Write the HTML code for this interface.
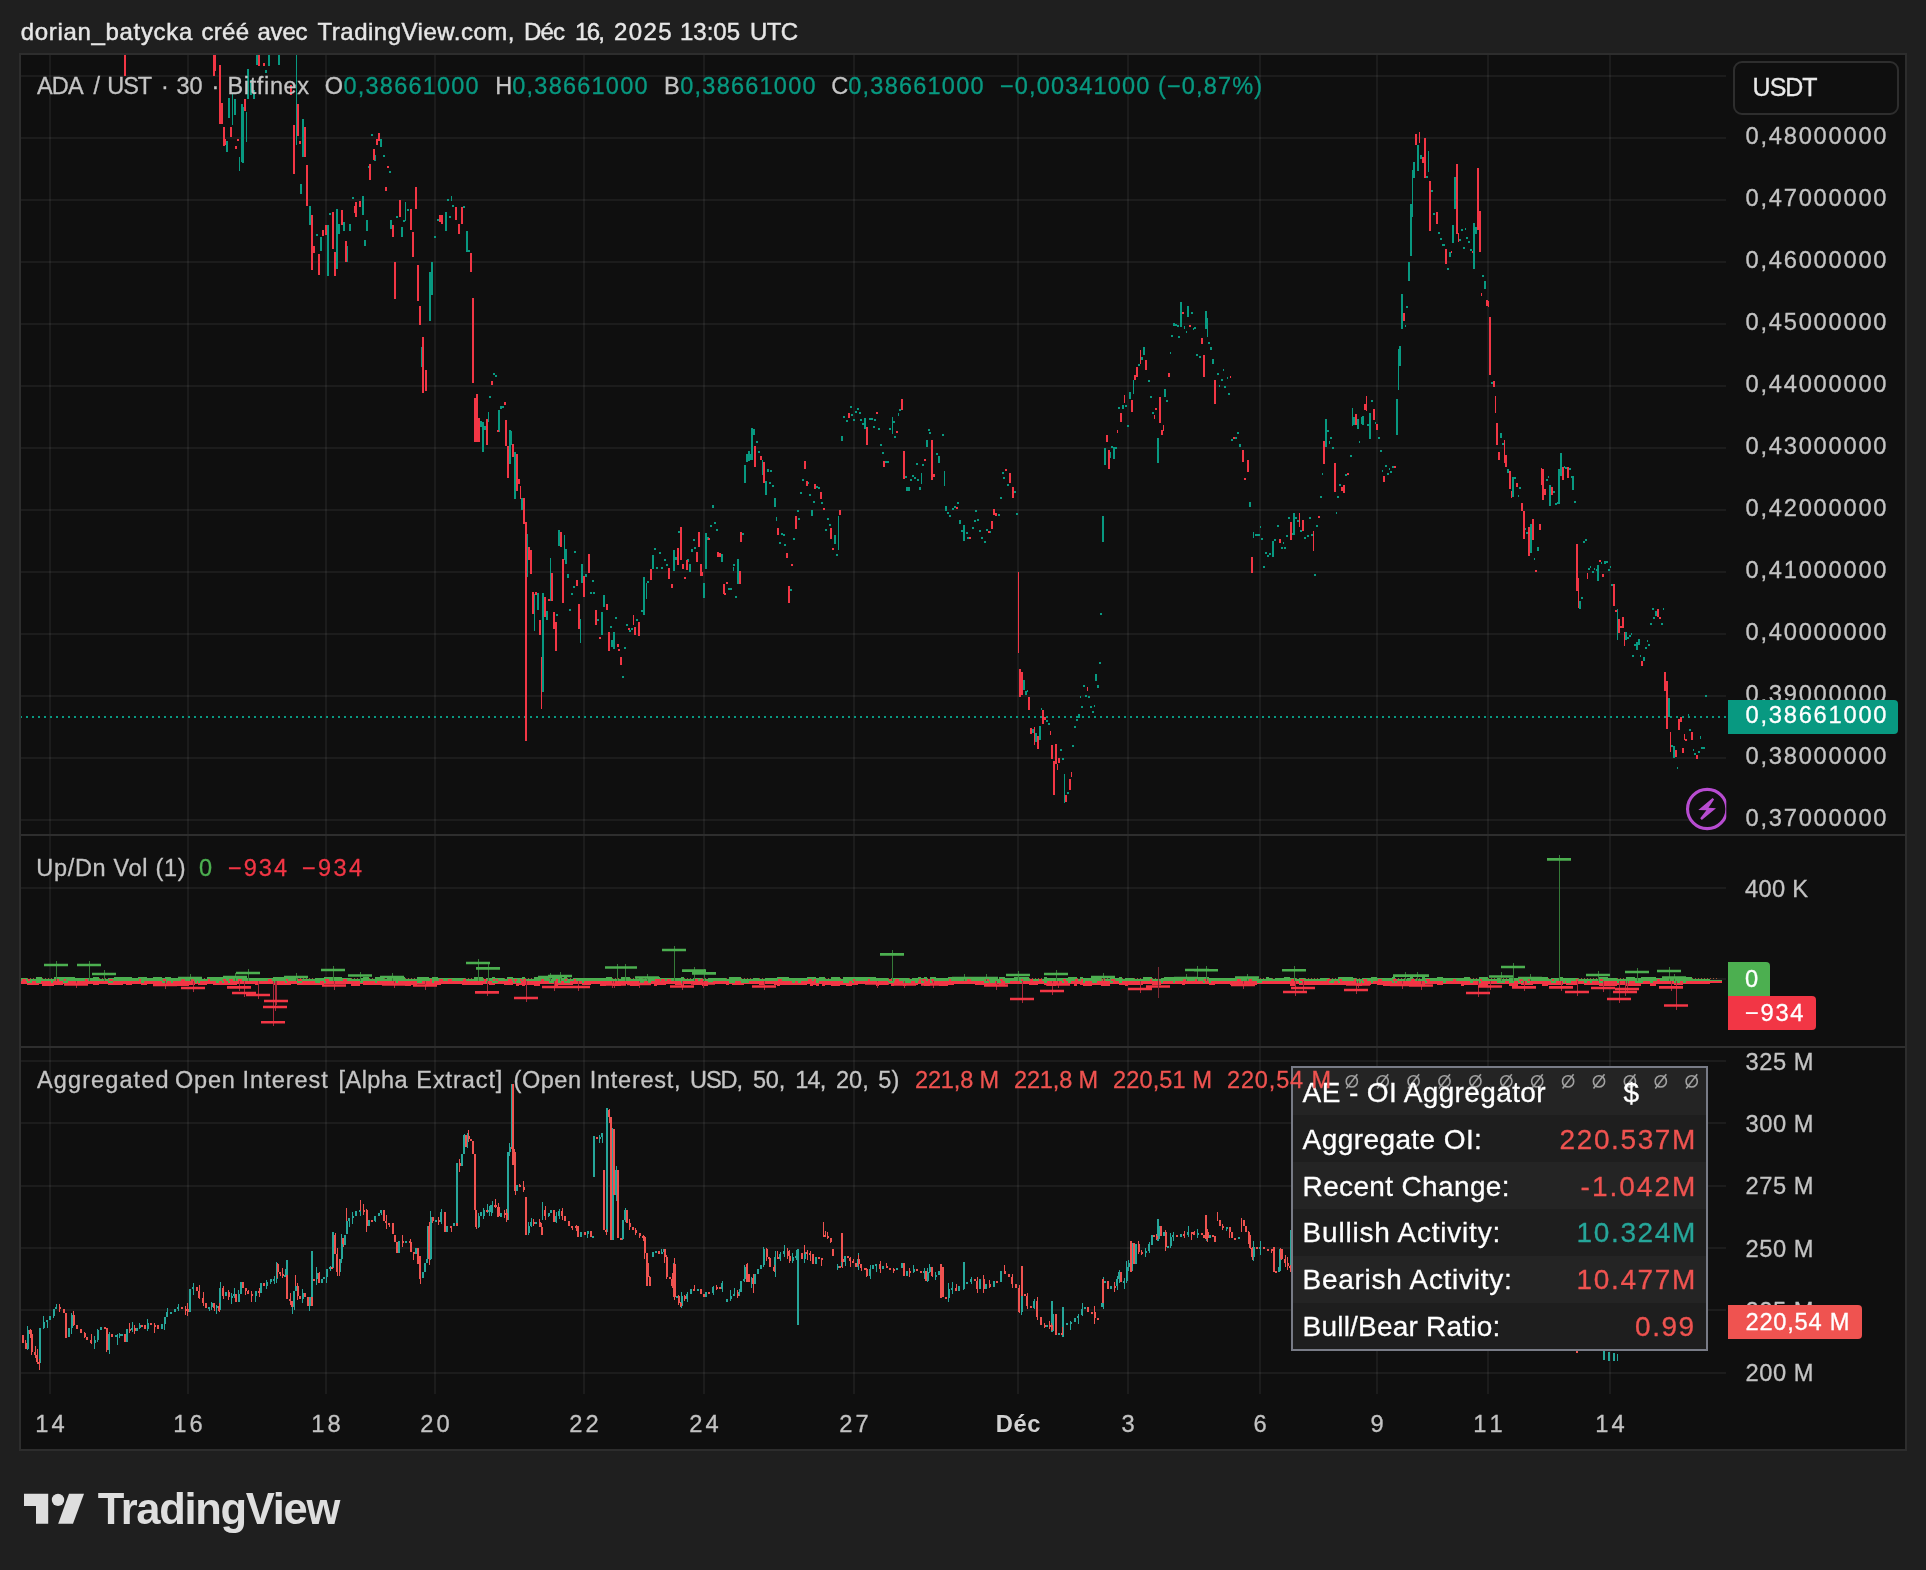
<!DOCTYPE html>
<html><head><meta charset="utf-8"><title>ADA / UST chart</title>
<style>html,body{margin:0;padding:0;background:#1f1f1f;}body{width:1926px;height:1570px;overflow:hidden;font-family:'Liberation Sans', sans-serif;}svg{display:block}text{white-space:pre}</style>
</head><body>
<svg width="1926" height="1570" viewBox="0 0 1926 1570" font-family="'Liberation Sans', sans-serif" shape-rendering="crispEdges">
<rect width="1926" height="1570" fill="#1f1f1f"/>
<g style="will-change:transform">
<rect x="20" y="54" width="1886" height="1396" fill="#0f0f0f" stroke="#2d2d2d" stroke-width="2"/>
<path d="M50 55V1394 M188 55V1394 M326 55V1394 M435 55V1394 M584 55V1394 M704 55V1394 M854 55V1394 M1018 55V1394 M1128 55V1394 M1260 55V1394 M1377 55V1394 M1488 55V1394 M1610 55V1394" stroke="#fff" stroke-opacity="0.055" stroke-width="2" fill="none"/>
<path d="M21 76.0H1726 M21 138.0H1726 M21 200.0H1726 M21 262.0H1726 M21 324.0H1726 M21 386.0H1726 M21 448.0H1726 M21 510.0H1726 M21 572.0H1726 M21 634.0H1726 M21 696.0H1726 M21 758.0H1726 M21 820.0H1726 M21 888H1726 M21 979H1726 M21 1061.0H1726 M21 1123.0H1726 M21 1186.0H1726 M21 1248.0H1726 M21 1310.0H1726 M21 1373.0H1726" stroke="#fff" stroke-opacity="0.055" stroke-width="2" fill="none"/>
<path d="M21 717H1727" stroke="#089981" stroke-width="2" stroke-dasharray="2 4" stroke-dashoffset="1" fill="none"/>
<clipPath id="cm"><rect x="21" y="55" width="1705" height="779"/></clipPath>
<g clip-path="url(#cm)"><path d="M225.8 141.2h2v11.2h-2zM228.3 97.5h2v20.0h-2zM232.3 92.5h1v32.5h-1zM233.8 98.7h2v16.2h-2zM239.3 157.4h1v13.7h-1zM241.3 103.7h2v58.7h-2zM245.8 112.4h1v30.0h-1zM247.0 68.7h2v30.0h-2zM250.0 80.0h2v15.0h-2zM253.0 90.0h2v8.7h-2zM256.3 55.0h2v10.0h-2zM265.0 70.0h2v2.5h-2zM268.0 55.0h2v11.2h-2zM277.5 55.0h2v10.0h-2zM295.5 55.0h1v89.9h-1zM302.0 118.7h2v38.7h-2zM300.0 183.6h2v10.0h-2zM308.7 206.1h2v18.7h-2zM315.7 234.3h2v2.0h-2zM319.9 237.3h2v13.7h-2zM326.9 224.8h2v51.2h-2zM328.7 212.6h2v2.0h-2zM335.7 208.6h2v59.9h-2zM338.2 224.8h2v8.7h-2zM342.9 222.3h2v8.7h-2zM346.2 246.1h2v16.2h-2zM349.2 224.8h2v5.7h-2zM351.7 196.9h2v2.0h-2zM361.9 196.1h2v18.7h-2zM365.7 219.8h2v11.2h-2zM363.9 239.8h2v6.2h-2zM367.7 166.4h2v2.0h-2zM371.1 133.9h2v2.0h-2zM374.4 154.9h2v6.2h-2zM380.4 138.7h2v8.7h-2zM382.9 154.7h2v2.0h-2zM388.9 170.6h2v2.0h-2zM390.4 219.8h2v8.7h-2zM396.1 216.3h2v2.0h-2zM400.9 227.3h2v10.0h-2zM402.9 220.1h2v2.0h-2zM405.4 202.4h1v18.7h-1zM407.4 209.3h2v2.0h-2zM421.1 347.2h1v20.0h-1zM428.6 272.3h2v48.7h-2zM430.6 262.3h2v32.5h-2zM433.6 236.3h2v2.0h-2zM436.6 218.8h2v2.0h-2zM444.8 212.3h2v18.7h-2zM449.1 216.3h2v2.0h-2zM447.3 198.9h2v2.0h-2zM450.8 196.1h1v5.0h-1zM452.3 205.1h2v2.0h-2zM463.1 205.6h2v2.0h-2zM465.6 230.6h2v21.7h-2zM467.8 250.1h2v2.0h-2zM492.7 373.0h2v2.0h-2zM495.0 375.0h2v2.0h-2zM489.0 396.0h2v2.0h-2zM479.5 421.2h2v6.2h-2zM482.0 422.4h2v29.5h-2zM484.0 426.2h2v3.7h-2zM488.0 411.9h1v10.0h-1zM498.0 410.0h2v22.0h-2zM500.2 406.2h2v2.5h-2zM502.0 405.7h2v2.0h-2zM509.2 429.9h2v34.5h-2zM511.2 431.2h1v13.7h-1zM514.2 452.4h2v46.5h-2zM521.2 498.1h2v11.7h-2zM527.2 534.1h1v43.2h-1zM533.9 593.5h1v37.5h-1zM536.9 593.0h2v16.7h-2zM541.9 593.0h2v99.2h-2zM545.9 611.0h2v8.7h-2zM549.9 558.1h1v43.0h-1zM556.4 614.2h2v2.0h-2zM558.2 530.3h2v15.7h-2zM563.9 534.8h1v25.0h-1zM564.9 549.1h2v15.0h-2zM566.9 574.3h2v3.5h-2zM568.9 609.0h2v2.0h-2zM570.9 593.0h2v2.0h-2zM572.6 586.0h2v2.0h-2zM573.9 551.1h2v2.0h-2zM580.1 619.2h1v23.7h-1zM581.1 564.0h2v19.0h-2zM585.1 573.5h2v3.7h-2zM590.1 592.3h2v2.0h-2zM593.1 592.3h2v2.0h-2zM591.9 580.0h2v2.0h-2zM597.1 618.5h2v2.0h-2zM601.1 612.2h2v22.5h-2zM603.4 594.8h2v12.5h-2zM609.6 626.0h2v2.0h-2zM611.3 639.7h2v7.5h-2zM613.1 631.5h2v17.0h-2zM615.1 617.2h2v2.0h-2zM622.1 676.2h2v2.0h-2zM623.8 646.5h2v2.5h-2zM625.8 624.2h2v2.0h-2zM629.3 629.7h2v2.0h-2zM631.3 627.7h2v2.0h-2zM635.8 618.5h2v2.0h-2zM641.3 610.2h2v2.0h-2zM643.3 577.3h2v37.5h-2zM645.8 583.0h1v15.5h-1zM647.3 581.0h2v2.0h-2zM651.8 555.3h2v13.2h-2zM653.8 548.3h2v2.0h-2zM656.3 566.5h2v2.0h-2zM658.8 552.3h2v2.0h-2zM660.8 567.3h2v2.0h-2zM663.8 558.6h2v2.0h-2zM665.8 564.3h2v2.0h-2zM673.3 550.3h2v20.7h-2zM675.0 557.3h2v2.5h-2zM678.3 531.1h2v2.0h-2zM687.0 558.6h2v3.7h-2zM689.0 564.3h2v7.5h-2zM691.3 548.6h2v3.2h-2zM693.0 539.1h2v2.0h-2zM694.0 547.3h2v2.0h-2zM703.0 583.0h2v14.7h-2zM705.3 532.8h2v36.2h-2zM707.0 536.6h2v3.2h-2zM710.0 525.1h2v2.0h-2zM713.7 522.3h2v2.0h-2zM715.5 529.3h2v2.0h-2zM712.0 504.9h2v3.0h-2zM720.7 553.6h2v8.2h-2zM728.2 588.0h2v2.0h-2zM730.0 588.0h2v2.0h-2zM735.0 596.0h2v2.0h-2zM732.5 567.3h1v3.7h-1zM733.2 564.0h2v2.0h-2zM737.0 559.1h2v24.5h-2zM741.7 532.8h2v2.0h-2zM744.0 465.4h2v17.5h-2zM745.7 453.7h2v8.0h-2zM747.7 451.2h2v10.0h-2zM749.5 453.7h2v6.2h-2zM751.2 427.9h2v32.0h-2zM752.5 428.7h2v6.2h-2zM756.0 441.2h2v2.0h-2zM758.0 451.2h2v2.0h-2zM761.9 459.9h1v15.0h-1zM764.9 481.1h2v13.7h-2zM766.9 469.4h2v3.0h-2zM769.9 469.9h2v2.0h-2zM768.7 482.4h2v2.0h-2zM771.9 485.4h2v2.0h-2zM773.9 498.1h2v8.7h-2zM775.9 517.3h1v3.7h-1zM778.9 542.3h2v2.0h-2zM780.7 533.1h2v2.0h-2zM782.9 534.3h2v2.0h-2zM784.4 543.6h2v2.0h-2zM789.9 588.5h2v2.0h-2zM793.2 538.1h2v2.0h-2zM796.9 510.1h2v2.0h-2zM798.4 518.1h2v2.0h-2zM799.9 492.4h2v2.0h-2zM802.2 479.4h2v2.0h-2zM807.4 482.4h2v2.0h-2zM809.1 493.6h2v2.0h-2zM811.1 509.9h2v6.2h-2zM812.9 500.6h2v2.0h-2zM816.1 485.6h2v2.0h-2zM817.9 486.6h2v2.0h-2zM821.4 502.4h2v2.0h-2zM825.1 528.6h2v2.0h-2zM826.9 518.1h2v2.0h-2zM828.6 523.6h2v2.0h-2zM833.9 534.8h2v9.2h-2zM836.1 554.3h2v2.0h-2zM838.1 516.1h1v34.2h-1zM840.9 436.2h2v4.5h-2zM842.9 416.4h2v2.0h-2zM845.6 419.9h2v2.0h-2zM849.9 406.2h2v2.0h-2zM851.4 414.4h2v2.0h-2zM853.1 419.2h2v2.0h-2zM855.1 411.2h2v2.0h-2zM856.9 408.2h2v2.0h-2zM858.6 412.4h2v2.0h-2zM860.3 418.7h2v2.0h-2zM862.1 422.9h2v2.0h-2zM864.1 417.9h2v10.7h-2zM868.6 418.4h2v2.0h-2zM870.6 418.4h2v2.0h-2zM872.6 426.2h2v2.0h-2zM874.3 419.4h2v2.0h-2zM877.8 427.9h2v2.0h-2zM879.8 444.2h2v2.0h-2zM881.6 452.4h2v2.0h-2zM884.8 460.6h2v2.0h-2zM886.6 461.1h2v2.0h-2zM889.1 427.9h2v2.0h-2zM891.6 416.9h1v16.7h-1zM892.6 420.7h2v2.0h-2zM894.3 436.2h2v2.0h-2zM898.3 413.2h1v3.0h-1zM899.3 409.2h2v2.0h-2zM904.8 476.1h2v2.0h-2zM906.1 487.4h2v3.5h-2zM907.8 487.4h2v3.5h-2zM910.0 479.1h2v2.0h-2zM912.3 475.4h2v2.0h-2zM914.0 477.4h2v2.0h-2zM915.5 462.9h2v2.0h-2zM917.3 479.4h2v2.0h-2zM919.0 486.6h2v3.2h-2zM921.0 473.1h1v10.5h-1zM922.3 464.4h2v2.0h-2zM926.0 439.9h2v7.0h-2zM927.5 429.4h2v2.0h-2zM929.3 432.4h2v2.0h-2zM936.0 452.9h2v2.0h-2zM938.0 456.2h2v6.7h-2zM942.0 434.1h2v2.0h-2zM944.0 471.1h1v15.0h-1zM945.0 506.0h2v5.0h-2zM947.0 511.8h2v2.0h-2zM949.0 514.8h2v2.0h-2zM951.5 507.8h2v2.0h-2zM953.5 506.0h2v2.0h-2zM957.2 502.3h2v2.0h-2zM959.0 520.3h2v3.7h-2zM961.0 530.2h2v2.0h-2zM963.0 525.3h2v15.7h-2zM965.7 532.2h2v2.0h-2zM967.2 537.2h2v2.0h-2zM971.9 527.3h2v2.0h-2zM973.9 520.3h2v2.0h-2zM975.2 510.3h2v2.0h-2zM976.9 519.3h2v2.0h-2zM978.9 530.2h2v2.0h-2zM980.9 537.2h2v2.0h-2zM983.9 541.2h2v2.0h-2zM985.9 529.3h2v2.0h-2zM989.2 531.2h2v2.0h-2zM997.9 513.5h2v2.0h-2zM999.9 497.3h2v2.0h-2zM1001.9 472.3h2v2.0h-2zM1003.4 477.3h2v2.0h-2zM1006.9 483.5h2v2.0h-2zM1013.9 491.0h2v2.0h-2zM1015.9 513.0h2v2.0h-2zM1098.8 662.1h2v2.0h-2zM1100.3 612.9h2v2.0h-2zM1102.1 516.0h2v25.7h-2zM1103.8 448.1h2v16.7h-2zM1110.1 452.3h1v5.5h-1zM1111.3 446.1h2v2.0h-2zM1113.1 446.8h2v11.7h-2zM1114.8 446.8h2v2.0h-2zM1118.3 406.9h2v2.0h-2zM1121.8 404.9h2v3.7h-2zM1125.0 404.9h2v2.5h-2zM1127.0 424.9h2v2.0h-2zM1129.0 392.4h2v6.2h-2zM1133.0 379.9h1v13.7h-1zM1137.8 364.2h2v2.0h-2zM1141.0 357.4h2v2.5h-2zM1143.0 346.9h2v8.0h-2zM1147.5 380.1h2v2.0h-2zM1150.0 396.1h2v2.0h-2zM1152.0 412.4h2v2.0h-2zM1157.0 438.1h2v25.0h-2zM1164.3 388.9h2v8.0h-2zM1166.0 400.4h2v2.0h-2zM1170.0 351.9h1v2.0h-1zM1171.2 335.4h2v2.0h-2zM1173.0 322.5h2v3.7h-2zM1175.0 324.0h2v2.0h-2zM1176.5 325.0h2v2.0h-2zM1178.2 336.2h2v2.0h-2zM1180.0 302.0h2v25.0h-2zM1184.2 325.7h1v3.7h-1zM1186.0 331.2h1v2.0h-1zM1187.0 305.7h2v11.2h-2zM1191.0 312.0h2v2.0h-2zM1193.0 328.2h1v2.0h-1zM1194.2 327.0h2v2.0h-2zM1196.2 354.2h2v2.0h-2zM1198.5 356.2h2v2.0h-2zM1205.0 311.0h2v17.7h-2zM1207.0 317.5h1v19.5h-1zM1208.0 342.2h2v2.0h-2zM1210.0 346.9h2v3.0h-2zM1212.0 359.4h2v4.5h-2zM1216.7 373.2h2v2.0h-2zM1219.2 384.9h1v2.0h-1zM1220.7 379.2h2v2.0h-2zM1222.9 368.9h1v2.0h-1zM1224.2 386.1h2v2.0h-2zM1226.7 377.4h1v2.0h-1zM1227.9 393.1h2v2.0h-2zM1231.2 438.6h2v2.0h-2zM1234.9 437.3h2v2.0h-2zM1236.9 432.1h2v2.0h-2zM1239.4 444.3h2v2.5h-2zM1248.9 501.8h2v5.0h-2zM1253.2 532.2h1v6.2h-1zM1254.9 534.2h1v2.0h-1zM1256.2 533.5h2v2.0h-2zM1257.9 534.2h2v2.0h-2zM1259.9 525.5h1v2.0h-1zM1260.9 538.0h2v2.0h-2zM1262.9 566.2h2v2.0h-2zM1264.9 552.2h2v2.0h-2zM1266.9 554.7h2v2.0h-2zM1269.4 553.0h2v2.0h-2zM1271.9 541.0h2v16.2h-2zM1273.9 538.5h2v2.0h-2zM1276.9 525.3h2v2.0h-2zM1281.1 547.2h2v2.0h-2zM1283.6 547.2h2v2.0h-2zM1282.9 542.2h1v2.0h-1zM1286.1 535.2h2v2.0h-2zM1288.1 517.3h2v2.0h-2zM1291.4 532.7h2v2.0h-2zM1292.9 513.0h2v22.2h-2zM1294.9 516.8h2v2.0h-2zM1296.6 519.8h2v2.0h-2zM1300.1 529.8h2v2.0h-2zM1304.4 537.2h2v2.0h-2zM1306.9 535.2h2v2.0h-2zM1308.9 517.3h2v2.0h-2zM1310.6 533.5h2v2.0h-2zM1313.9 574.2h2v2.0h-2zM1316.1 525.3h2v2.0h-2zM1319.8 496.0h2v2.0h-2zM1321.8 473.1h1v2.0h-1zM1325.1 419.1h2v27.7h-2zM1326.8 430.1h2v2.0h-2zM1328.8 440.6h1v3.0h-1zM1329.8 437.3h2v2.0h-2zM1331.8 447.1h2v2.0h-2zM1336.8 496.0h2v2.0h-2zM1335.8 512.3h1v2.0h-1zM1338.8 484.3h2v2.0h-2zM1345.3 474.1h2v2.0h-2zM1349.8 455.3h2v2.0h-2zM1352.1 407.9h1v18.2h-1zM1353.3 416.9h2v8.0h-2zM1357.1 418.6h2v10.5h-2zM1359.1 441.1h1v2.0h-1zM1360.6 417.4h2v6.2h-2zM1362.3 416.1h2v8.7h-2zM1367.3 423.6h2v2.0h-2zM1369.0 413.1h2v26.0h-2zM1371.0 400.1h2v2.0h-2zM1375.3 422.4h1v2.0h-1zM1378.0 437.1h2v2.0h-2zM1380.0 450.1h2v2.0h-2zM1382.0 470.3h1v2.0h-1zM1384.8 465.3h2v2.0h-2zM1386.8 473.1h2v2.0h-2zM1389.0 467.8h1v2.0h-1zM1390.3 471.1h2v2.0h-2zM1392.3 466.1h2v2.0h-2zM1396.0 399.1h2v35.7h-2zM1022.8 680.0h2v9.6h-2zM1024.6 691.4h2v3.5h-2zM1026.5 690.3h1v2.0h-1zM1031.6 729.1h2v3.5h-2zM1035.1 732.6h2v9.6h-2zM1039.1 726.1h2v13.8h-2zM1040.8 708.4h1v2.0h-1zM1045.9 720.3h2v2.0h-2zM1047.9 723.3h2v2.0h-2zM1059.8 749.2h2v2.0h-2zM1061.9 758.3h2v2.0h-2zM1063.9 774.1h1v28.6h-1zM1066.9 792.3h2v2.0h-2zM1071.9 745.2h2v2.0h-2zM1074.0 726.4h2v2.0h-2zM1075.9 719.1h2v2.0h-2zM1077.8 714.2h2v3.5h-2zM1079.9 696.3h1v2.0h-1zM1081.0 706.3h2v2.0h-2zM1082.9 685.3h2v2.0h-2zM1085.0 695.2h2v2.0h-2zM1088.0 696.3h2v2.0h-2zM1089.9 706.3h2v2.0h-2zM1091.8 711.4h2v2.0h-2zM1093.9 705.1h1v2.0h-1zM1095.0 674.1h2v6.8h-2zM1096.9 685.3h2v2.6h-2zM1099.0 662.3h2v2.0h-2zM1100.9 613.3h1v2.0h-1zM1397.9 348.8h1v41.2h-1zM1398.9 346.0h2v19.7h-2zM1400.9 294.1h2v34.7h-2zM1405.0 325.4h1v2.0h-1zM1406.0 306.1h2v2.0h-2zM1407.8 262.1h2v18.7h-2zM1410.1 204.0h2v51.7h-2zM1411.9 169.9h1v46.8h-1zM1412.9 162.1h2v15.7h-2zM1417.0 145.2h2v25.7h-2zM1420.0 155.0h2v4.1h-2zM1425.8 176.1h2v2.0h-2zM1428.0 150.8h1v21.0h-1zM1431.1 190.2h2v2.0h-2zM1433.3 213.0h2v2.0h-2zM1438.0 232.1h2v2.0h-2zM1439.9 238.3h2v2.0h-2zM1441.7 244.3h2v2.0h-2zM1443.2 244.3h2v2.0h-2zM1446.8 268.3h2v2.0h-2zM1448.9 252.3h2v4.3h-2zM1451.9 225.2h2v17.4h-2zM1453.9 177.1h2v31.7h-2zM1459.2 239.2h2v2.0h-2zM1461.0 229.1h2v2.0h-2zM1462.9 247.3h2v2.0h-2zM1464.9 228.0h1v2.0h-1zM1465.9 237.4h2v2.0h-2zM1468.0 241.3h2v2.0h-2zM1469.8 249.4h2v2.0h-2zM1473.0 222.9h2v45.9h-2zM1474.9 227.1h2v6.6h-2zM1481.8 275.2h2v2.0h-2zM1483.9 281.0h2v7.9h-2zM1491.0 382.1h2v2.0h-2zM1491.0 382.0h2v2.0h-2zM1499.8 433.1h2v5.1h-2zM1501.9 442.9h2v2.0h-2zM1507.0 469.0h2v4.1h-2zM1511.9 477.1h2v19.9h-2zM1513.7 477.1h2v2.0h-2zM1517.9 494.8h1v2.0h-1zM1519.0 487.1h2v2.0h-2zM1524.9 528.0h1v2.0h-1zM1525.9 531.9h2v2.0h-2zM1529.9 523.9h2v29.1h-2zM1533.9 558.1h1v2.0h-1zM1537.1 546.9h2v3.9h-2zM1545.9 479.0h2v2.0h-2zM1547.9 475.9h1v2.0h-1zM1549.0 485.0h2v20.8h-2zM1552.9 491.1h2v2.0h-2zM1554.9 503.1h2v2.0h-2zM1556.9 502.1h1v2.0h-1zM1558.1 469.0h2v34.9h-2zM1560.0 453.0h2v23.0h-2zM1564.2 466.1h1v2.0h-1zM1565.1 466.9h2v2.0h-2zM1569.0 467.9h2v2.0h-2zM1571.1 475.9h1v2.0h-1zM1572.1 475.9h2v14.1h-2zM1574.0 500.9h2v2.0h-2zM1579.1 601.0h2v7.0h-2zM1580.8 596.9h2v2.0h-2zM1583.0 541.1h2v2.0h-2zM1584.9 539.2h2v2.0h-2zM1587.8 568.0h2v2.0h-2zM1590.3 566.1h1v2.0h-1zM1591.9 571.0h2v2.0h-2zM1594.0 568.0h1v2.0h-1zM1595.7 569.0h1v2.0h-1zM1597.0 564.9h2v16.0h-2zM1600.9 562.0h1v2.0h-1zM1604.1 561.0h2v2.9h-2zM1605.8 561.0h2v2.0h-2zM1607.6 569.0h2v2.0h-2zM1609.7 566.1h1v2.0h-1zM1610.9 584.0h2v2.0h-2zM1579.0 601.2h2v7.6h-2zM1580.9 597.3h2v2.0h-2zM1617.1 609.1h1v30.6h-1zM1625.2 632.3h2v7.4h-2zM1627.2 636.5h2v2.0h-2zM1628.8 635.2h2v2.0h-2zM1630.8 633.3h1v2.0h-1zM1634.2 644.1h2v2.0h-2zM1635.9 641.8h2v7.8h-2zM1638.0 639.0h2v5.7h-2zM1631.9 655.2h2v2.0h-2zM1640.0 655.2h1v2.0h-1zM1642.8 657.1h2v4.2h-2zM1645.1 647.1h2v2.0h-2zM1647.0 639.7h1v2.0h-1zM1647.9 644.1h2v2.0h-2zM1650.0 623.1h2v2.0h-2zM1652.0 608.2h2v2.0h-2zM1653.4 617.0h2v2.0h-2zM1654.9 611.0h2v5.1h-2zM1661.0 623.1h2v2.0h-2zM1662.9 608.2h1v2.0h-1zM1668.0 698.0h2v19.4h-2zM1671.1 745.2h2v2.0h-2zM1673.0 746.4h2v11.5h-2zM1677.0 767.1h1v2.0h-1zM1687.5 714.2h1v3.2h-1zM1688.9 729.2h2v2.0h-2zM1692.9 749.2h1v2.0h-1zM1694.0 753.1h2v2.0h-2zM1697.9 751.1h2v2.0h-2zM1699.9 736.2h1v2.5h-1zM1701.0 747.3h2v2.0h-2zM1702.9 747.3h2v2.0h-2zM1705.1 695.1h2v2.0h-2zM241.9 106.5h2v56.2h-2zM337.7 224.4h2v9.4h-2zM349.4 224.4h2v6.2h-2zM429.5 272.0h2v21.9h-2z" fill="#089981"/><path d="M123.9 55.0h2v20.5h-2zM212.6 55.0h2v21.2h-2zM218.8 65.0h2v58.7h-2zM222.5 127.4h2v18.7h-2zM230.0 127.4h2v10.0h-2zM235.0 146.2h2v2.5h-2zM237.0 139.4h2v2.0h-2zM243.8 98.7h2v12.5h-2zM258.3 55.0h2v11.2h-2zM262.5 62.5h2v3.7h-2zM290.0 85.0h2v10.0h-2zM292.5 124.9h2v48.7h-2zM296.7 103.7h2v32.5h-2zM298.7 141.4h2v2.5h-2zM304.0 127.4h2v30.0h-2zM306.2 164.9h2v41.2h-2zM310.7 214.8h2v54.9h-2zM313.2 246.1h2v6.2h-2zM318.0 253.6h2v21.2h-2zM322.4 229.8h2v6.2h-2zM324.9 224.8h2v10.0h-2zM331.7 212.3h2v36.2h-2zM333.7 252.3h2v23.7h-2zM341.2 209.8h2v15.0h-2zM344.9 241.1h2v21.2h-2zM353.7 206.1h2v6.2h-2zM355.4 202.4h2v15.0h-2zM358.7 201.1h2v6.2h-2zM368.7 163.6h2v16.2h-2zM373.1 148.7h2v11.2h-2zM376.1 138.7h2v6.2h-2zM378.1 132.9h2v8.2h-2zM386.9 165.9h2v2.0h-2zM384.9 187.4h2v3.2h-2zM391.9 224.8h2v12.5h-2zM393.6 262.3h2v36.2h-2zM398.9 199.9h2v17.5h-2zM409.9 209.3h2v20.5h-2zM412.4 232.3h2v25.0h-2zM415.1 187.4h2v21.2h-2zM417.1 265.3h2v35.2h-2zM418.9 306.0h2v18.7h-2zM421.8 337.2h2v56.2h-2zM424.8 369.7h2v21.2h-2zM438.6 214.8h2v7.5h-2zM441.1 214.8h2v8.7h-2zM454.8 207.3h2v12.5h-2zM457.8 223.6h2v10.0h-2zM461.1 206.6h2v17.0h-2zM470.0 253.1h2v18.5h-2zM472.3 298.0h2v84.7h-2zM490.7 381.2h2v3.7h-2zM474.0 397.5h2v44.5h-2zM476.0 393.7h2v48.2h-2zM477.7 417.9h2v24.0h-2zM485.7 418.7h2v26.2h-2zM496.5 429.9h2v2.5h-2zM503.5 402.0h2v2.5h-2zM505.0 419.9h2v26.2h-2zM507.0 446.2h2v31.7h-2zM512.2 444.2h2v13.2h-2zM516.2 453.7h2v37.5h-2zM517.9 479.4h2v5.0h-2zM519.9 486.1h1v12.5h-1zM522.9 498.1h2v25.5h-2zM524.9 522.3h2v218.5h-2zM528.4 546.8h2v13.0h-2zM530.2 549.8h2v24.2h-2zM531.9 592.3h2v22.0h-2zM535.2 592.3h2v2.5h-2zM538.9 619.7h2v15.0h-2zM540.9 657.2h1v51.7h-1zM543.9 597.3h2v20.0h-2zM547.9 598.5h2v2.0h-2zM550.9 572.8h2v28.2h-2zM552.9 612.2h2v17.0h-2zM554.9 621.7h2v29.2h-2zM559.9 531.8h2v15.0h-2zM561.9 559.1h2v43.7h-2zM575.9 580.3h2v5.7h-2zM578.1 604.0h2v25.0h-2zM583.1 576.0h2v21.2h-2zM587.9 554.3h2v18.5h-2zM595.1 610.2h2v14.5h-2zM598.9 636.7h2v2.0h-2zM605.6 604.3h2v5.5h-2zM608.1 631.5h2v19.5h-2zM616.8 643.5h2v3.7h-2zM618.1 648.5h2v2.0h-2zM620.1 657.2h2v7.5h-2zM627.6 627.7h2v2.0h-2zM633.1 615.2h1v9.5h-1zM634.3 627.2h2v7.5h-2zM638.1 621.7h2v14.2h-2zM650.1 569.3h2v10.5h-2zM668.3 567.8h2v11.2h-2zM671.0 584.0h2v3.7h-2zM677.3 548.1h2v16.7h-2zM680.0 527.3h2v32.5h-2zM682.0 563.5h2v5.7h-2zM684.0 577.3h2v2.0h-2zM685.8 559.8h2v10.0h-2zM695.8 552.3h2v9.5h-2zM698.0 531.8h2v15.5h-2zM700.0 563.5h2v12.5h-2zM701.3 571.8h2v3.7h-2zM708.3 538.1h2v2.0h-2zM717.0 551.6h2v5.0h-2zM719.0 553.1h2v4.2h-2zM723.0 584.0h2v9.5h-2zM724.2 592.8h2v2.0h-2zM726.2 581.8h2v2.0h-2zM738.5 571.0h2v12.5h-2zM740.0 531.8h2v10.0h-2zM754.2 446.2h2v20.7h-2zM759.9 456.2h2v3.7h-2zM762.9 461.9h2v21.0h-2zM776.9 528.1h2v6.7h-2zM785.9 553.1h2v5.0h-2zM787.9 586.0h2v16.7h-2zM791.4 563.5h2v2.5h-2zM795.2 516.1h2v13.0h-2zM803.9 461.1h2v7.5h-2zM805.7 480.6h2v5.0h-2zM814.4 483.6h2v5.0h-2zM819.9 491.9h2v7.2h-2zM823.1 508.4h2v2.0h-2zM830.1 528.1h2v10.5h-2zM832.1 548.3h2v2.0h-2zM839.1 509.9h2v5.0h-2zM848.1 412.9h2v5.0h-2zM866.1 426.9h2v18.0h-2zM876.1 411.9h2v2.0h-2zM883.1 460.6h2v6.2h-2zM896.1 431.4h2v2.0h-2zM901.1 398.7h2v11.2h-2zM903.1 451.2h2v28.0h-2zM924.0 459.2h2v2.0h-2zM931.0 439.9h2v40.0h-2zM932.8 473.6h2v3.7h-2zM955.5 507.3h2v2.0h-2zM969.4 537.2h2v2.0h-2zM987.7 530.5h2v2.0h-2zM990.9 521.0h2v8.0h-2zM993.2 509.0h2v5.7h-2zM995.2 512.8h2v3.2h-2zM1005.2 469.3h2v2.0h-2zM1008.9 473.1h2v9.7h-2zM1011.9 486.8h2v11.2h-2zM1018.2 571.7h1v81.2h-1zM1018.9 668.9h2v3.2h-2zM1105.8 435.3h2v6.5h-2zM1107.8 450.3h2v18.7h-2zM1116.8 429.9h1v3.0h-1zM1120.0 413.1h2v9.2h-2zM1123.8 394.9h1v8.0h-1zM1131.0 399.9h2v12.0h-2zM1134.0 374.9h2v5.0h-2zM1135.8 366.9h2v10.0h-2zM1140.0 349.9h1v13.7h-1zM1145.0 359.9h2v10.0h-2zM1154.0 414.9h1v3.7h-1zM1155.0 408.1h2v2.0h-2zM1159.0 396.9h2v26.0h-2zM1161.0 429.9h2v5.0h-2zM1163.0 424.9h1v6.2h-1zM1168.0 372.9h2v4.0h-2zM1182.0 312.0h2v2.0h-2zM1189.0 325.0h2v2.0h-2zM1201.0 337.9h2v5.7h-2zM1203.0 354.9h2v22.0h-2zM1214.0 379.9h2v24.2h-2zM1229.9 376.2h1v2.0h-1zM1233.2 436.8h2v2.0h-2zM1241.9 449.8h2v12.0h-2zM1244.2 478.1h2v2.0h-2zM1246.9 459.8h2v12.5h-2zM1250.9 556.7h2v16.2h-2zM1278.9 538.5h2v4.5h-2zM1290.1 521.8h2v18.5h-2zM1298.9 512.8h1v14.5h-1zM1301.9 519.8h2v11.2h-2zM1312.9 531.0h1v20.0h-1zM1318.1 516.0h2v2.0h-2zM1323.1 441.1h2v23.0h-2zM1333.8 463.1h2v29.2h-2zM1340.8 487.3h2v3.7h-2zM1342.8 484.8h2v8.0h-2zM1347.3 473.1h2v2.0h-2zM1355.1 414.1h2v10.7h-2zM1364.1 403.6h2v6.2h-2zM1366.1 396.1h1v15.0h-1zM1373.0 408.6h2v11.7h-2zM1376.3 423.6h2v6.2h-2zM1383.0 476.1h2v6.2h-2zM1394.0 466.1h2v2.0h-2zM1018.9 669.0h2v27.7h-2zM1020.7 672.1h2v22.8h-2zM1028.1 697.0h2v12.8h-2zM1029.8 728.2h2v5.6h-2zM1034.0 727.3h1v17.5h-1zM1037.0 736.1h2v12.8h-2zM1041.9 710.1h2v13.7h-2zM1043.8 717.1h2v3.2h-2zM1049.9 731.3h1v3.5h-1zM1051.0 745.2h2v13.7h-2zM1052.9 760.6h2v34.2h-2zM1054.9 744.0h2v20.1h-2zM1056.9 764.1h1v5.6h-1zM1058.0 758.0h2v4.9h-2zM1064.8 795.1h2v6.7h-2zM1068.9 779.0h2v10.9h-2zM1071.0 772.3h1v4.6h-1zM1086.9 687.4h1v3.5h-1zM1402.8 313.2h2v7.5h-2zM1414.8 134.0h2v10.7h-2zM1419.0 132.1h1v10.7h-1zM1422.1 156.8h2v6.0h-2zM1424.0 138.1h2v39.7h-2zM1428.8 181.2h2v49.6h-2zM1435.8 212.1h2v11.8h-2zM1444.7 249.0h2v15.0h-2zM1450.9 251.4h1v2.0h-1zM1456.0 163.9h2v69.7h-2zM1458.0 232.7h1v9.4h-1zM1471.8 250.5h1v2.0h-1zM1477.0 168.1h2v61.8h-2zM1479.0 211.1h2v40.6h-2zM1480.8 293.2h1v2.6h-1zM1485.9 300.1h2v5.6h-2zM1487.8 301.0h1v5.6h-1zM1488.9 317.0h2v58.1h-2zM1493.1 381.0h2v5.8h-2zM1495.1 396.0h1v16.9h-1zM1495.9 423.0h2v21.8h-2zM1497.8 452.0h2v8.0h-2zM1503.8 439.9h1v23.0h-1zM1505.1 454.9h2v12.1h-2zM1509.0 470.9h2v18.2h-2zM1510.8 491.2h1v6.5h-1zM1515.8 482.9h2v4.2h-2zM1521.1 503.0h2v7.8h-2zM1523.0 510.8h2v28.1h-2zM1527.9 526.8h2v29.1h-2zM1532.0 519.1h2v20.8h-2zM1535.0 570.0h2v2.0h-2zM1539.0 523.9h2v6.1h-2zM1540.9 467.9h1v17.0h-1zM1541.9 468.7h2v31.3h-2zM1544.0 489.0h2v5.8h-2zM1550.9 487.1h2v7.7h-2zM1561.9 466.9h2v13.1h-2zM1566.9 466.9h2v10.9h-2zM1576.0 544.0h2v46.8h-2zM1578.0 577.7h1v30.2h-1zM1587.0 572.9h1v6.0h-1zM1598.8 560.3h2v2.0h-2zM1602.0 573.9h2v3.1h-2zM1612.9 584.0h2v22.1h-2zM1578.0 590.0h1v16.6h-1zM1613.1 590.0h2v15.9h-2zM1615.1 609.7h2v2.0h-2zM1618.1 619.0h2v13.6h-2zM1621.8 617.0h2v10.6h-2zM1619.9 626.3h2v2.0h-2zM1624.1 632.3h1v13.5h-1zM1640.9 661.3h2v4.5h-2zM1656.8 609.1h2v8.3h-2zM1659.0 617.0h2v2.0h-2zM1664.1 672.2h2v18.5h-2zM1666.0 680.7h2v48.2h-2zM1669.9 732.0h1v19.7h-1zM1674.9 750.3h2v6.4h-2zM1678.1 718.7h2v11.1h-2zM1680.0 717.4h2v4.5h-2zM1681.9 748.0h2v4.8h-2zM1684.1 733.9h1v6.4h-1zM1685.1 738.8h2v2.0h-2zM1690.8 732.0h2v7.6h-2zM1695.9 755.0h2v3.8h-2zM214.3 55.0h2v15.6h-2zM220.8 103.4h2v20.3h-2zM223.8 139.3h2v5.9h-2zM293.4 146.3h2v28.1h-2zM312.5 246.2h2v6.7h-2zM354.1 205.6h2v7.0h-2zM376.0 139.3h2v5.5h-2zM439.4 215.8h2v5.5h-2zM455.0 212.6h2v7.5h-2z" fill="#f23645"/></g>
<path d="M21 835H1905M21 1047H1905" stroke="#2e2e2e" stroke-width="2" fill="none"/>
<path d="M21 978.5H1719" stroke="#9c5533" stroke-width="1" stroke-dasharray="1 2" fill="none"/>
<path d="M21 978h6v3h-6zM27 979h9v2h-9zM36 977h3v4h-3zM39 977h3v4h-3zM42 979h9v2h-9zM51 979h3v2h-3zM54 977h9v4h-9zM63 977h6v4h-6zM69 977h6v4h-6zM75 978h9v3h-9zM84 978h9v3h-9zM93 977h6v4h-6zM99 979h9v2h-9zM108 978h6v3h-6zM114 977h6v4h-6zM120 977h3v4h-3zM123 977h3v4h-3zM126 977h6v4h-6zM132 978h6v3h-6zM138 977h3v4h-3zM141 977h6v4h-6zM147 978h6v3h-6zM153 977h9v4h-9zM162 978h3v3h-3zM165 977h6v4h-6zM171 978h9v3h-9zM180 977h9v4h-9zM189 977h6v4h-6zM195 977h3v4h-3zM198 979h9v2h-9zM207 977h6v4h-6zM213 977h3v4h-3zM216 977h6v4h-6zM222 977h6v4h-6zM228 978h9v3h-9zM237 978h9v3h-9zM246 978h9v3h-9zM255 978h3v3h-3zM258 978h9v3h-9zM267 978h6v3h-6zM273 977h9v4h-9zM282 977h3v4h-3zM285 977h6v4h-6zM291 978h6v3h-6zM297 979h9v2h-9zM306 979h9v2h-9zM315 978h9v3h-9zM324 977h9v4h-9zM333 977h9v4h-9zM342 978h9v3h-9zM351 979h9v2h-9zM360 978h3v3h-3zM363 977h6v4h-6zM369 979h6v2h-6zM375 977h9v4h-9zM384 979h3v2h-3zM387 978h3v3h-3zM390 977h6v4h-6zM396 977h9v4h-9zM405 979h6v2h-6zM411 979h6v2h-6zM417 977h9v4h-9zM426 977h3v4h-3zM429 978h3v3h-3zM432 977h6v4h-6zM438 978h3v3h-3zM441 978h6v3h-6zM447 978h6v3h-6zM453 978h9v3h-9zM462 978h3v3h-3zM465 979h9v2h-9zM474 977h9v4h-9zM483 979h3v2h-3zM486 978h3v3h-3zM489 978h3v3h-3zM492 977h3v4h-3zM495 978h9v3h-9zM504 979h3v2h-3zM507 977h6v4h-6zM513 978h3v3h-3zM516 978h3v3h-3zM519 978h3v3h-3zM522 977h3v4h-3zM525 979h9v2h-9zM534 977h6v4h-6zM540 978h9v3h-9zM549 979h3v2h-3zM552 977h3v4h-3zM555 978h3v3h-3zM558 978h6v3h-6zM564 977h3v4h-3zM567 979h6v2h-6zM573 978h9v3h-9zM582 978h9v3h-9zM591 978h9v3h-9zM600 978h6v3h-6zM606 977h6v4h-6zM612 979h9v2h-9zM621 977h9v4h-9zM630 979h9v2h-9zM639 978h3v3h-3zM642 979h6v2h-6zM648 977h6v4h-6zM654 977h3v4h-3zM657 977h3v4h-3zM660 978h6v3h-6zM666 978h9v3h-9zM675 978h6v3h-6zM681 977h3v4h-3zM684 979h9v2h-9zM693 978h6v3h-6zM699 978h3v3h-3zM702 979h6v2h-6zM708 978h9v3h-9zM717 978h9v3h-9zM726 979h3v2h-3zM729 977h3v4h-3zM732 977h9v4h-9zM741 979h3v2h-3zM744 979h9v2h-9zM753 978h6v3h-6zM759 979h6v2h-6zM765 978h3v3h-3zM768 978h6v3h-6zM774 978h3v3h-3zM777 977h3v4h-3zM780 977h9v4h-9zM789 978h3v3h-3zM792 978h6v3h-6zM798 978h9v3h-9zM807 977h3v4h-3zM810 977h3v4h-3zM813 977h3v4h-3zM816 978h3v3h-3zM819 977h3v4h-3zM822 977h3v4h-3zM825 979h6v2h-6zM831 977h9v4h-9zM840 979h3v2h-3zM843 977h3v4h-3zM846 977h6v4h-6zM852 977h6v4h-6zM858 977h9v4h-9zM867 977h9v4h-9zM876 978h3v3h-3zM879 978h9v3h-9zM888 979h3v2h-3zM891 978h3v3h-3zM894 978h9v3h-9zM903 978h3v3h-3zM906 978h3v3h-3zM909 979h3v2h-3zM912 978h3v3h-3zM915 978h3v3h-3zM918 977h3v4h-3zM921 978h3v3h-3zM924 977h3v4h-3zM927 979h3v2h-3zM930 977h6v4h-6zM936 978h3v3h-3zM939 978h9v3h-9zM948 977h6v4h-6zM954 978h6v3h-6zM960 977h6v4h-6zM966 977h3v4h-3zM969 977h6v4h-6zM975 979h3v2h-3zM978 979h3v2h-3zM981 979h3v2h-3zM984 978h6v3h-6zM990 978h6v3h-6zM996 979h3v2h-3zM999 977h6v4h-6zM1005 978h9v3h-9zM1014 977h6v4h-6zM1020 977h9v4h-9zM1029 979h9v2h-9zM1038 979h6v2h-6zM1044 977h3v4h-3zM1047 978h9v3h-9zM1056 978h6v3h-6zM1062 978h6v3h-6zM1068 977h6v4h-6zM1074 977h3v4h-3zM1077 979h3v2h-3zM1080 977h3v4h-3zM1083 978h9v3h-9zM1092 978h9v3h-9zM1101 979h9v2h-9zM1110 978h3v3h-3zM1113 978h6v3h-6zM1119 977h3v4h-3zM1122 979h3v2h-3zM1125 978h3v3h-3zM1128 978h6v3h-6zM1134 979h9v2h-9zM1143 977h6v4h-6zM1149 977h3v4h-3zM1152 979h9v2h-9zM1161 978h3v3h-3zM1164 977h9v4h-9zM1173 977h3v4h-3zM1176 979h6v2h-6zM1182 978h3v3h-3zM1185 978h9v3h-9zM1194 977h9v4h-9zM1203 977h6v4h-6zM1209 978h6v3h-6zM1215 978h9v3h-9zM1224 978h6v3h-6zM1230 978h6v3h-6zM1236 978h9v3h-9zM1245 977h3v4h-3zM1248 977h6v4h-6zM1254 977h3v4h-3zM1257 979h9v2h-9zM1266 977h3v4h-3zM1269 978h3v3h-3zM1272 979h3v2h-3zM1275 978h3v3h-3zM1278 978h6v3h-6zM1284 977h6v4h-6zM1290 978h6v3h-6zM1296 979h3v2h-3zM1299 978h6v3h-6zM1305 979h6v2h-6zM1311 979h9v2h-9zM1320 978h6v3h-6zM1326 978h3v3h-3zM1329 979h9v2h-9zM1338 977h9v4h-9zM1347 977h6v4h-6zM1353 978h3v3h-3zM1356 979h6v2h-6zM1362 978h9v3h-9zM1371 977h3v4h-3zM1374 977h3v4h-3zM1377 978h6v3h-6zM1383 978h9v3h-9zM1392 977h3v4h-3zM1395 979h3v2h-3zM1398 979h9v2h-9zM1407 978h3v3h-3zM1410 977h3v4h-3zM1413 979h9v2h-9zM1422 977h3v4h-3zM1425 978h6v3h-6zM1431 978h6v3h-6zM1437 977h6v4h-6zM1443 978h9v3h-9zM1452 978h9v3h-9zM1461 978h3v3h-3zM1464 977h6v4h-6zM1470 979h9v2h-9zM1479 977h9v4h-9zM1488 979h9v2h-9zM1497 978h3v3h-3zM1500 979h9v2h-9zM1509 978h9v3h-9zM1518 979h3v2h-3zM1521 979h6v2h-6zM1527 978h6v3h-6zM1533 978h9v3h-9zM1542 977h6v4h-6zM1548 979h3v2h-3zM1551 978h9v3h-9zM1560 977h3v4h-3zM1563 978h3v3h-3zM1566 978h9v3h-9zM1575 978h3v3h-3zM1578 979h6v2h-6zM1584 979h6v2h-6zM1590 979h9v2h-9zM1599 977h9v4h-9zM1608 978h9v3h-9zM1617 979h9v2h-9zM1626 977h9v4h-9zM1635 978h3v3h-3zM1638 978h3v3h-3zM1641 977h9v4h-9zM1650 977h6v4h-6zM1656 978h3v3h-3zM1659 978h6v3h-6zM1665 978h9v3h-9zM1674 977h3v4h-3zM1677 977h6v4h-6zM1683 977h9v4h-9zM1692 979h3v2h-3zM1695 979h9v2h-9zM1704 979h6v2h-6zM1710 980h6v1h-6zM1716 980h6v1h-6z" fill="#4caf50"/><path d="M21 981h6v3h-6zM27 981h9v4h-9zM36 981h3v4h-3zM39 981h3v3h-3zM42 981h9v5h-9zM51 981h3v5h-3zM54 981h9v4h-9zM63 981h6v3h-6zM69 981h6v3h-6zM75 981h9v4h-9zM84 981h9v3h-9zM93 981h6v4h-6zM99 981h9v3h-9zM108 981h6v4h-6zM114 981h6v4h-6zM120 981h3v4h-3zM123 981h3v3h-3zM126 981h6v4h-6zM132 981h6v3h-6zM138 981h3v3h-3zM141 981h6v4h-6zM147 981h6v3h-6zM153 981h9v4h-9zM162 981h3v3h-3zM165 981h6v3h-6zM171 981h9v5h-9zM180 981h9v5h-9zM189 981h6v4h-6zM195 981h3v3h-3zM198 981h9v4h-9zM207 981h6v3h-6zM213 981h3v4h-3zM216 981h6v4h-6zM222 981h6v4h-6zM228 981h9v4h-9zM237 981h9v3h-9zM246 981h9v3h-9zM255 981h3v4h-3zM258 981h9v3h-9zM267 981h6v3h-6zM273 981h9v4h-9zM282 981h3v4h-3zM285 981h6v4h-6zM291 981h6v3h-6zM297 981h9v4h-9zM306 981h9v4h-9zM315 981h9v4h-9zM324 981h9v3h-9zM333 981h9v3h-9zM342 981h9v3h-9zM351 981h9v5h-9zM360 981h3v3h-3zM363 981h6v4h-6zM369 981h6v4h-6zM375 981h9v4h-9zM384 981h3v4h-3zM387 981h3v3h-3zM390 981h6v3h-6zM396 981h9v3h-9zM405 981h6v5h-6zM411 981h6v4h-6zM417 981h9v3h-9zM426 981h3v5h-3zM429 981h3v5h-3zM432 981h6v4h-6zM438 981h3v4h-3zM441 981h6v3h-6zM447 981h6v3h-6zM453 981h9v3h-9zM462 981h3v4h-3zM465 981h9v4h-9zM474 981h9v4h-9zM483 981h3v3h-3zM486 981h3v3h-3zM489 981h3v4h-3zM492 981h3v4h-3zM495 981h9v3h-9zM504 981h3v4h-3zM507 981h6v4h-6zM513 981h3v3h-3zM516 981h3v5h-3zM519 981h3v4h-3zM522 981h3v5h-3zM525 981h9v4h-9zM534 981h6v5h-6zM540 981h9v3h-9zM549 981h3v3h-3zM552 981h3v3h-3zM555 981h3v5h-3zM558 981h6v4h-6zM564 981h3v4h-3zM567 981h6v4h-6zM573 981h9v3h-9zM582 981h9v4h-9zM591 981h9v3h-9zM600 981h6v5h-6zM606 981h6v3h-6zM612 981h9v5h-9zM621 981h9v3h-9zM630 981h9v5h-9zM639 981h3v3h-3zM642 981h6v4h-6zM648 981h6v3h-6zM654 981h3v5h-3zM657 981h3v4h-3zM660 981h6v4h-6zM666 981h9v3h-9zM675 981h6v4h-6zM681 981h3v5h-3zM684 981h9v3h-9zM693 981h6v4h-6zM699 981h3v4h-3zM702 981h6v5h-6zM708 981h9v3h-9zM717 981h9v3h-9zM726 981h3v4h-3zM729 981h3v3h-3zM732 981h9v4h-9zM741 981h3v4h-3zM744 981h9v3h-9zM753 981h6v3h-6zM759 981h6v4h-6zM765 981h3v3h-3zM768 981h6v3h-6zM774 981h3v4h-3zM777 981h3v5h-3zM780 981h9v4h-9zM789 981h3v4h-3zM792 981h6v4h-6zM798 981h9v4h-9zM807 981h3v3h-3zM810 981h3v5h-3zM813 981h3v4h-3zM816 981h3v5h-3zM819 981h3v3h-3zM822 981h3v5h-3zM825 981h6v4h-6zM831 981h9v5h-9zM840 981h3v4h-3zM843 981h3v4h-3zM846 981h6v5h-6zM852 981h6v4h-6zM858 981h9v3h-9zM867 981h9v3h-9zM876 981h3v5h-3zM879 981h9v4h-9zM888 981h3v3h-3zM891 981h3v5h-3zM894 981h9v4h-9zM903 981h3v5h-3zM906 981h3v3h-3zM909 981h3v4h-3zM912 981h3v4h-3zM915 981h3v4h-3zM918 981h3v3h-3zM921 981h3v4h-3zM924 981h3v5h-3zM927 981h3v5h-3zM930 981h6v3h-6zM936 981h3v3h-3zM939 981h9v5h-9zM948 981h6v4h-6zM954 981h6v3h-6zM960 981h6v3h-6zM966 981h3v3h-3zM969 981h6v3h-6zM975 981h3v4h-3zM978 981h3v4h-3zM981 981h3v4h-3zM984 981h6v4h-6zM990 981h6v4h-6zM996 981h3v3h-3zM999 981h6v4h-6zM1005 981h9v3h-9zM1014 981h6v3h-6zM1020 981h9v3h-9zM1029 981h9v4h-9zM1038 981h6v3h-6zM1044 981h3v4h-3zM1047 981h9v5h-9zM1056 981h6v4h-6zM1062 981h6v3h-6zM1068 981h6v3h-6zM1074 981h3v5h-3zM1077 981h3v3h-3zM1080 981h3v4h-3zM1083 981h9v5h-9zM1092 981h9v4h-9zM1101 981h9v5h-9zM1110 981h3v3h-3zM1113 981h6v3h-6zM1119 981h3v4h-3zM1122 981h3v4h-3zM1125 981h3v5h-3zM1128 981h6v4h-6zM1134 981h9v4h-9zM1143 981h6v3h-6zM1149 981h3v3h-3zM1152 981h9v4h-9zM1161 981h3v3h-3zM1164 981h9v3h-9zM1173 981h3v3h-3zM1176 981h6v3h-6zM1182 981h3v4h-3zM1185 981h9v3h-9zM1194 981h9v3h-9zM1203 981h6v3h-6zM1209 981h6v4h-6zM1215 981h9v3h-9zM1224 981h6v3h-6zM1230 981h6v4h-6zM1236 981h9v4h-9zM1245 981h3v4h-3zM1248 981h6v3h-6zM1254 981h3v4h-3zM1257 981h9v3h-9zM1266 981h3v3h-3zM1269 981h3v3h-3zM1272 981h3v3h-3zM1275 981h3v3h-3zM1278 981h6v3h-6zM1284 981h6v3h-6zM1290 981h6v5h-6zM1296 981h3v3h-3zM1299 981h6v4h-6zM1305 981h6v4h-6zM1311 981h9v4h-9zM1320 981h6v4h-6zM1326 981h3v4h-3zM1329 981h9v4h-9zM1338 981h9v4h-9zM1347 981h6v4h-6zM1353 981h3v4h-3zM1356 981h6v5h-6zM1362 981h9v4h-9zM1371 981h3v3h-3zM1374 981h3v3h-3zM1377 981h6v4h-6zM1383 981h9v5h-9zM1392 981h3v4h-3zM1395 981h3v4h-3zM1398 981h9v3h-9zM1407 981h3v4h-3zM1410 981h3v5h-3zM1413 981h9v4h-9zM1422 981h3v4h-3zM1425 981h6v3h-6zM1431 981h6v3h-6zM1437 981h6v4h-6zM1443 981h9v3h-9zM1452 981h9v3h-9zM1461 981h3v5h-3zM1464 981h6v4h-6zM1470 981h9v4h-9zM1479 981h9v5h-9zM1488 981h9v3h-9zM1497 981h3v3h-3zM1500 981h9v3h-9zM1509 981h9v5h-9zM1518 981h3v3h-3zM1521 981h6v4h-6zM1527 981h6v4h-6zM1533 981h9v3h-9zM1542 981h6v5h-6zM1548 981h3v4h-3zM1551 981h9v4h-9zM1560 981h3v4h-3zM1563 981h3v3h-3zM1566 981h9v4h-9zM1575 981h3v4h-3zM1578 981h6v3h-6zM1584 981h6v4h-6zM1590 981h9v4h-9zM1599 981h9v5h-9zM1608 981h9v5h-9zM1617 981h9v4h-9zM1626 981h9v5h-9zM1635 981h3v5h-3zM1638 981h3v5h-3zM1641 981h9v3h-9zM1650 981h6v5h-6zM1656 981h3v3h-3zM1659 981h6v3h-6zM1665 981h9v3h-9zM1674 981h3v4h-3zM1677 981h6v4h-6zM1683 981h9v3h-9zM1692 981h3v3h-3zM1695 981h9v3h-9zM1704 981h6v3h-6zM1710 981h6v2h-6zM1716 981h6v2h-6z" fill="#f23645"/><path d="M27 981h5v2h-5zM36 981h5v2h-5zM51 981h2v2h-2zM63 981h5v2h-5zM108 981h5v2h-5zM141 981h3v2h-3zM162 981h5v2h-5zM165 981h2v2h-2zM171 981h2v2h-2zM195 981h2v2h-2zM198 981h2v2h-2zM216 981h3v2h-3zM222 981h2v2h-2zM228 981h2v2h-2zM273 981h2v2h-2zM285 981h2v2h-2zM297 981h5v2h-5zM315 981h5v2h-5zM324 981h2v2h-2zM360 981h3v2h-3zM375 981h2v2h-2zM396 981h2v2h-2zM417 981h5v2h-5zM432 981h2v2h-2zM486 981h2v2h-2zM492 981h5v2h-5zM495 981h3v2h-3zM513 981h2v2h-2zM516 981h5v2h-5zM549 981h5v2h-5zM552 981h3v2h-3zM558 981h3v2h-3zM564 981h3v2h-3zM567 981h3v2h-3zM582 981h2v2h-2zM639 981h5v2h-5zM648 981h3v2h-3zM681 981h2v2h-2zM708 981h5v2h-5zM729 981h3v2h-3zM732 981h3v2h-3zM741 981h3v2h-3zM744 981h5v2h-5zM792 981h3v2h-3zM798 981h3v2h-3zM816 981h3v2h-3zM843 981h3v2h-3zM846 981h3v2h-3zM852 981h2v2h-2zM888 981h5v2h-5zM891 981h3v2h-3zM903 981h3v2h-3zM906 981h5v2h-5zM915 981h3v2h-3zM921 981h3v2h-3zM930 981h2v2h-2zM984 981h5v2h-5zM990 981h5v2h-5zM996 981h5v2h-5zM1005 981h5v2h-5zM1020 981h2v2h-2zM1044 981h3v2h-3zM1062 981h2v2h-2zM1068 981h3v2h-3zM1083 981h2v2h-2zM1092 981h5v2h-5zM1110 981h3v2h-3zM1119 981h3v2h-3zM1161 981h2v2h-2zM1173 981h2v2h-2zM1203 981h2v2h-2zM1209 981h2v2h-2zM1257 981h5v2h-5zM1299 981h3v2h-3zM1329 981h5v2h-5zM1338 981h2v2h-2zM1356 981h5v2h-5zM1362 981h2v2h-2zM1371 981h2v2h-2zM1392 981h2v2h-2zM1395 981h2v2h-2zM1425 981h2v2h-2zM1443 981h3v2h-3zM1470 981h3v2h-3zM1479 981h2v2h-2zM1497 981h5v2h-5zM1500 981h5v2h-5zM1509 981h5v2h-5zM1518 981h2v2h-2zM1521 981h2v2h-2zM1527 981h3v2h-3zM1551 981h5v2h-5zM1563 981h2v2h-2zM1566 981h5v2h-5zM1584 981h3v2h-3zM1590 981h2v2h-2zM1599 981h5v2h-5zM1617 981h2v2h-2zM1626 981h3v2h-3zM1635 981h3v2h-3zM1638 981h5v2h-5zM1641 981h2v2h-2zM1650 981h3v2h-3zM1674 981h3v2h-3zM1677 981h3v2h-3zM1683 981h3v2h-3z" fill="#4caf50"/><path d="M22 979h4v2h-4zM28 979h2v2h-2zM55 979h4v2h-4zM64 979h2v2h-2zM85 979h3v2h-3zM109 979h4v2h-4zM139 979h2v2h-2zM163 979h3v2h-3zM181 979h4v2h-4zM190 979h4v2h-4zM208 979h2v2h-2zM223 979h3v2h-3zM229 979h4v2h-4zM238 979h4v2h-4zM268 979h4v2h-4zM286 979h2v2h-2zM298 979h4v2h-4zM325 979h4v2h-4zM343 979h4v2h-4zM430 979h2v2h-2zM439 979h4v2h-4zM448 979h4v2h-4zM463 979h3v2h-3zM484 979h3v2h-3zM493 979h2v2h-2zM496 979h2v2h-2zM508 979h4v2h-4zM514 979h3v2h-3zM520 979h2v2h-2zM523 979h3v2h-3zM541 979h3v2h-3zM556 979h2v2h-2zM565 979h2v2h-2zM574 979h2v2h-2zM655 979h4v2h-4zM658 979h2v2h-2zM661 979h4v2h-4zM667 979h4v2h-4zM694 979h4v2h-4zM700 979h3v2h-3zM778 979h4v2h-4zM808 979h4v2h-4zM814 979h2v2h-2zM853 979h2v2h-2zM868 979h2v2h-2zM889 979h3v2h-3zM895 979h4v2h-4zM919 979h2v2h-2zM922 979h4v2h-4zM928 979h2v2h-2zM931 979h3v2h-3zM949 979h2v2h-2zM967 979h4v2h-4zM985 979h4v2h-4zM1000 979h3v2h-3zM1021 979h2v2h-2zM1030 979h3v2h-3zM1039 979h3v2h-3zM1063 979h3v2h-3zM1075 979h3v2h-3zM1081 979h2v2h-2zM1102 979h3v2h-3zM1111 979h4v2h-4zM1150 979h2v2h-2zM1183 979h3v2h-3zM1195 979h3v2h-3zM1204 979h4v2h-4zM1237 979h4v2h-4zM1249 979h3v2h-3zM1291 979h3v2h-3zM1300 979h4v2h-4zM1327 979h4v2h-4zM1339 979h3v2h-3zM1354 979h2v2h-2zM1363 979h4v2h-4zM1378 979h4v2h-4zM1393 979h4v2h-4zM1411 979h4v2h-4zM1426 979h4v2h-4zM1453 979h3v2h-3zM1480 979h2v2h-2zM1519 979h4v2h-4zM1528 979h3v2h-3zM1552 979h2v2h-2zM1576 979h2v2h-2zM1600 979h3v2h-3zM1657 979h3v2h-3z" fill="#f23645"/>
<path d="M56 961V981M89 961V981M104 970V981M248 969V981M333 966V981M478 959V981M488 964V981M617 964V981M190 974V981M235 973V981M296 973V981M360 972V981M392 973V981M550 973V981M560 972V981M625 964V981M674 946V981M694 967V981M704 969V981M892 950V981M1018 971V981M1056 970V981M1197 966V981M647 974V981M964 974V981M986 974V981M1103 973V981M1186 974V981M1206 966V981M1294 966V981M1405 972V981M1417 972V981M1513 963V981M1559 855V981M1598 971V981M1637 968V981M1669 967V981M1247 974V981M1501 972V981M1530 974V981M1674 974V981" stroke="#357a38" stroke-width="1" fill="none"/><path d="M273 981V1026M275 981V1011M276 981V1005M258 981V999M244 981V997M239 981V991M193 981V992M165 981V989M76 981V988M487 981V996M526 981V1002M554 981V991M578 981V991M334 981V990M425 981V990M394 981V988M612 981V988M1022 981V1003M1052 981V995M1140 981V993M1158 981V990M682 981V990M764 981V990M614 981V988M639 981V988M703 981V988M877 981V988M904 981V988M933 981V988M996 981V990M1058 981V988M1243 981V989M1295 981V996M1303 981V992M1356 981V994M1358 981V988M1402 981V989M1421 981V990M1478 981V997M1490 981V990M1524 981V991M1561 981V991M1577 981V996M1603 981V992M1619 981V1003M1625 981V996M1627 981V993M1671 981V991M1676 981V1010" stroke="#a8283a" stroke-width="1" fill="none"/>
<path d="M44 963.7h24v2.6h-24zM77 963.7h24v2.6h-24zM92 972.7h24v2.6h-24zM236 971.7h24v2.6h-24zM321 968.7h24v2.6h-24zM466 961.7h24v2.6h-24zM476 967.1h24v2.6h-24zM605 966.2h24v2.6h-24zM178 976.7h24v2.6h-24zM223 975.7h24v2.6h-24zM284 975.7h24v2.6h-24zM348 974.2h24v2.6h-24zM380 975.7h24v2.6h-24zM538 975.7h24v2.6h-24zM548 974.7h24v2.6h-24zM613 966.2h24v2.6h-24zM662 948.7h24v2.6h-24zM682 969.3h24v2.6h-24zM692 972.1h24v2.6h-24zM880 953.1h24v2.6h-24zM1006 973.7h24v2.6h-24zM1044 972.7h24v2.6h-24zM1185 968.7h24v2.6h-24zM635 976.2h24v2.6h-24zM952 976.7h24v2.6h-24zM974 976.7h24v2.6h-24zM1091 975.7h24v2.6h-24zM1174 976.7h24v2.6h-24zM1194 969.0h24v2.6h-24zM1282 969.0h24v2.6h-24zM1393 974.3h24v2.6h-24zM1405 974.3h24v2.6h-24zM1501 965.7h24v2.6h-24zM1547 858.1h24v2.6h-24zM1586 973.7h24v2.6h-24zM1625 970.7h24v2.6h-24zM1657 969.7h24v2.6h-24zM1235 976.2h24v2.6h-24zM1489 975.2h24v2.6h-24zM1518 976.7h24v2.6h-24zM1662 976.2h24v2.6h-24z" fill="#4caf50" shape-rendering="auto"/><path d="M261 1021.0h24v2.6h-24zM263 1005.7h24v2.6h-24zM264 999.7h24v2.6h-24zM246 993.7h24v2.6h-24zM232 991.7h24v2.6h-24zM227 986.1h24v2.6h-24zM181 986.7h24v2.6h-24zM153 983.7h24v2.6h-24zM64 983.2h24v2.6h-24zM475 991.1h24v2.6h-24zM514 996.7h24v2.6h-24zM542 985.7h24v2.6h-24zM566 985.7h24v2.6h-24zM322 984.2h24v2.6h-24zM413 984.2h24v2.6h-24zM382 983.2h24v2.6h-24zM600 983.2h24v2.6h-24zM1010 997.7h24v2.6h-24zM1040 989.7h24v2.6h-24zM1128 987.7h24v2.6h-24zM1146 985.2h24v2.6h-24zM670 985.2h24v2.6h-24zM752 985.2h24v2.6h-24zM602 983.2h24v2.6h-24zM627 982.7h24v2.6h-24zM691 982.2h24v2.6h-24zM865 982.2h24v2.6h-24zM892 983.2h24v2.6h-24zM921 983.2h24v2.6h-24zM984 984.2h24v2.6h-24zM1046 983.2h24v2.6h-24zM1231 983.7h24v2.6h-24zM1283 990.7h24v2.6h-24zM1291 986.7h24v2.6h-24zM1344 988.7h24v2.6h-24zM1346 983.2h24v2.6h-24zM1390 983.7h24v2.6h-24zM1409 984.2h24v2.6h-24zM1466 991.7h24v2.6h-24zM1478 985.2h24v2.6h-24zM1512 986.1h24v2.6h-24zM1549 986.1h24v2.6h-24zM1565 990.7h24v2.6h-24zM1591 986.7h24v2.6h-24zM1607 997.7h24v2.6h-24zM1613 990.7h24v2.6h-24zM1615 987.7h24v2.6h-24zM1659 986.1h24v2.6h-24zM1664 1004.2h24v2.6h-24z" fill="#f23645" shape-rendering="auto"/>
<path d="M1158 967V998" stroke="#7a2a33" stroke-width="1"/>
<clipPath id="co"><rect x="21" y="1048" width="1705" height="346"/></clipPath>
<g clip-path="url(#co)"><path d="M26.5 1330.4h2v18.7h-2zM27.0 1326.4h1v23.7h-1zM39.4 1327.9h2v34.9h-2zM42.7 1321.7h2v6.2h-2zM43.2 1315.7h1v13.2h-1zM46.4 1320.4h2v2.0h-2zM46.9 1320.4h1v8.0h-1zM49.4 1316.2h2v4.2h-2zM52.6 1309.2h2v7.0h-2zM53.1 1309.2h1v9.0h-1zM55.1 1306.7h2v2.5h-2zM55.6 1303.7h1v5.5h-1zM67.6 1327.9h2v8.7h-2zM70.6 1314.7h2v13.2h-2zM71.1 1312.7h1v21.2h-1zM93.8 1340.4h2v2.5h-2zM94.3 1336.4h1v12.5h-1zM96.8 1330.4h2v10.0h-2zM97.3 1329.4h1v13.0h-1zM100.0 1326.7h2v3.7h-2zM108.2 1334.1h2v16.2h-2zM108.7 1332.1h1v22.2h-1zM115.0 1335.4h2v2.0h-2zM118.7 1334.1h2v2.0h-2zM119.2 1333.1h1v5.0h-1zM121.2 1333.6h2v2.0h-2zM126.2 1328.7h2v13.0h-2zM131.1 1327.9h2v2.0h-2zM131.6 1321.9h1v10.0h-1zM136.1 1327.9h2v2.6h-2zM138.6 1324.8h2v3.1h-2zM139.1 1322.8h1v6.1h-1zM146.6 1322.9h2v6.2h-2zM147.1 1318.9h1v12.2h-1zM160.6 1324.2h2v4.5h-2zM163.5 1316.7h2v7.5h-2zM164.0 1316.7h1v13.5h-1zM166.0 1312.2h2v4.5h-2zM166.5 1308.2h1v8.5h-1zM169.8 1311.7h2v2.0h-2zM173.5 1309.2h2v2.5h-2zM177.3 1307.2h2v2.0h-2zM177.8 1304.2h1v7.0h-1zM189.0 1289.3h2v22.4h-2zM192.2 1287.3h2v2.0h-2zM192.7 1283.3h1v12.0h-1zM208.4 1306.7h2v2.0h-2zM208.9 1306.7h1v4.0h-1zM210.9 1303.0h2v3.7h-2zM211.4 1302.0h1v7.7h-1zM215.9 1305.5h2v2.5h-2zM216.4 1304.5h1v9.5h-1zM219.1 1288.0h2v22.4h-2zM219.6 1282.0h1v28.4h-1zM224.6 1291.8h2v3.7h-2zM230.8 1295.5h2v2.0h-2zM231.3 1292.5h1v11.0h-1zM233.3 1294.3h2v2.0h-2zM233.8 1288.3h1v10.0h-1zM237.8 1294.3h2v7.5h-2zM238.3 1290.3h1v11.5h-1zM239.6 1281.8h2v12.5h-2zM254.5 1290.5h2v5.0h-2zM255.0 1290.5h1v11.0h-1zM260.2 1283.1h2v10.0h-2zM265.7 1281.8h2v3.7h-2zM266.2 1279.8h1v8.7h-1zM269.5 1279.3h2v2.5h-2zM270.0 1279.3h1v4.5h-1zM273.2 1278.8h2v2.0h-2zM273.7 1275.8h1v8.0h-1zM275.7 1264.4h2v14.5h-2zM276.2 1262.4h1v20.5h-1zM284.4 1274.8h2v2.0h-2zM284.9 1268.8h1v8.0h-1zM293.1 1290.5h2v16.2h-2zM293.6 1290.5h1v19.2h-1zM294.9 1285.5h2v5.0h-2zM295.4 1285.5h1v5.0h-1zM301.9 1293.0h2v6.2h-2zM302.4 1289.0h1v14.2h-1zM309.3 1296.8h2v8.7h-2zM311.3 1279.3h2v26.2h-2zM315.6 1273.1h2v6.2h-2zM316.1 1267.1h1v18.2h-1zM320.6 1279.3h2v3.7h-2zM323.0 1276.8h2v2.5h-2zM325.5 1269.3h2v7.5h-2zM326.0 1269.3h1v13.5h-1zM329.3 1266.9h2v2.5h-2zM329.8 1265.9h1v5.5h-1zM332.0 1234.5h2v32.4h-2zM332.5 1232.5h1v35.4h-1zM339.0 1259.4h2v12.5h-2zM340.5 1238.2h2v21.2h-2zM341.0 1234.2h1v29.2h-1zM343.7 1234.5h2v10.0h-2zM345.5 1220.7h2v13.7h-2zM348.0 1218.3h2v2.5h-2zM348.5 1218.3h1v8.5h-1zM351.7 1215.8h2v2.5h-2zM352.2 1211.8h1v12.5h-1zM355.4 1210.8h2v5.0h-2zM359.2 1209.5h2v2.0h-2zM359.7 1206.5h1v9.0h-1zM367.9 1219.5h2v6.2h-2zM368.4 1219.5h1v6.2h-1zM374.1 1215.8h2v5.0h-2zM374.6 1215.8h1v6.0h-1zM377.9 1213.3h2v2.5h-2zM380.4 1209.5h2v3.7h-2zM380.9 1209.5h1v5.7h-1zM397.8 1240.7h2v12.5h-2zM405.3 1241.4h2v2.0h-2zM415.3 1248.2h2v6.2h-2zM421.5 1271.8h2v6.2h-2zM424.0 1263.1h2v8.7h-2zM425.7 1259.4h2v3.7h-2zM426.7 1225.7h2v33.6h-2zM429.5 1217.0h2v42.4h-2zM430.0 1211.0h1v49.4h-1zM435.2 1219.5h2v2.0h-2zM440.2 1212.0h2v10.0h-2zM440.7 1209.0h1v15.0h-1zM446.4 1225.7h2v6.2h-2zM452.6 1223.2h2v2.5h-2zM456.4 1163.4h2v62.3h-2zM461.4 1153.5h2v12.5h-2zM463.1 1134.8h2v18.7h-2zM466.4 1136.0h2v11.2h-2zM466.9 1133.0h1v15.2h-1zM477.6 1215.8h2v11.2h-2zM478.1 1212.8h1v15.2h-1zM480.1 1212.0h2v3.7h-2zM483.0 1209.5h2v2.5h-2zM488.8 1207.0h2v5.0h-2zM489.3 1206.0h1v10.0h-1zM491.3 1204.5h2v2.5h-2zM491.8 1200.5h1v12.5h-1zM482.7 1210.8h2v5.0h-2zM483.2 1207.8h1v11.0h-1zM486.5 1209.5h2v2.0h-2zM487.0 1203.5h1v9.0h-1zM490.2 1205.0h2v4.5h-2zM490.7 1205.0h1v10.5h-1zM500.2 1213.3h2v3.7h-2zM506.9 1152.2h2v67.3h-2zM508.9 1147.2h2v5.0h-2zM509.4 1143.2h1v13.0h-1zM516.4 1184.6h2v6.2h-2zM527.6 1225.7h2v7.5h-2zM528.1 1221.7h1v13.5h-1zM530.1 1222.0h2v3.7h-2zM530.6 1218.0h1v8.7h-1zM535.1 1222.0h2v2.0h-2zM547.5 1213.3h2v2.5h-2zM548.0 1213.3h1v3.5h-1zM550.0 1209.5h2v3.7h-2zM555.0 1215.8h2v6.2h-2zM555.5 1211.8h1v11.2h-1zM558.3 1210.8h2v5.0h-2zM558.8 1208.8h1v10.0h-1zM579.9 1232.0h2v5.0h-2zM586.7 1230.7h2v3.7h-2zM587.2 1230.7h1v7.7h-1zM592.4 1235.7h2v2.0h-2zM598.6 1136.8h2v2.0h-2zM599.1 1134.8h1v8.0h-1zM601.1 1132.8h2v4.0h-2zM601.6 1132.8h1v10.0h-1zM606.1 1109.8h2v122.1h-2zM611.8 1132.3h2v107.2h-2zM612.3 1128.3h1v111.2h-1zM615.1 1169.7h2v24.9h-2zM615.6 1165.7h1v34.9h-1zM621.6 1219.5h2v19.9h-2zM622.1 1219.5h1v20.9h-1zM624.0 1209.5h2v10.0h-2zM624.5 1209.5h1v11.0h-1zM651.5 1251.9h2v5.0h-2zM654.7 1251.4h2v2.0h-2zM660.9 1252.4h2v2.0h-2zM661.4 1249.4h1v5.0h-1zM662.7 1249.4h2v3.0h-2zM672.9 1264.4h2v21.2h-2zM673.4 1263.4h1v28.2h-1zM675.9 1295.5h2v2.0h-2zM680.9 1295.5h2v10.0h-2zM681.4 1291.5h1v16.0h-1zM686.4 1294.3h2v5.0h-2zM686.9 1292.3h1v10.0h-1zM689.6 1289.3h2v5.0h-2zM697.1 1288.8h2v2.0h-2zM704.5 1291.8h2v5.0h-2zM712.0 1287.3h2v5.7h-2zM712.5 1286.3h1v8.7h-1zM721.2 1283.1h2v6.2h-2zM721.7 1281.1h1v11.2h-1zM725.7 1299.3h2v2.5h-2zM729.5 1295.5h2v3.7h-2zM730.0 1289.5h1v11.7h-1zM733.2 1293.8h2v2.0h-2zM733.7 1287.8h1v8.0h-1zM738.2 1291.8h2v3.7h-2zM738.7 1288.8h1v6.7h-1zM740.2 1280.6h2v11.2h-2zM743.2 1279.3h2v2.0h-2zM743.9 1266.9h2v12.5h-2zM744.4 1264.9h1v17.5h-1zM746.9 1274.3h2v6.2h-2zM747.4 1273.3h1v8.2h-1zM750.7 1278.1h2v3.7h-2zM751.2 1277.1h1v10.7h-1zM753.9 1274.3h2v10.0h-2zM756.9 1269.3h2v5.0h-2zM760.1 1264.9h2v4.5h-2zM762.6 1249.4h2v15.5h-2zM774.3 1256.9h2v13.7h-2zM774.8 1250.9h1v25.7h-1zM779.3 1254.4h2v5.0h-2zM779.8 1252.4h1v9.0h-1zM783.0 1251.4h2v3.0h-2zM783.5 1245.4h1v12.0h-1zM791.8 1256.9h2v3.7h-2zM792.3 1252.9h1v9.7h-1zM795.0 1255.6h2v2.0h-2zM795.5 1249.6h1v10.0h-1zM797.3 1253.1h2v2.5h-2zM803.7 1251.9h2v7.5h-2zM804.2 1248.9h1v14.5h-1zM815.0 1256.9h2v7.5h-2zM836.6 1265.6h2v2.5h-2zM837.1 1263.6h1v6.5h-1zM840.9 1259.4h2v7.5h-2zM844.1 1255.6h2v6.2h-2zM844.6 1255.6h1v10.2h-1zM857.1 1259.4h2v7.5h-2zM857.6 1259.4h1v10.5h-1zM869.0 1269.3h2v6.2h-2zM869.5 1265.3h1v13.2h-1zM872.3 1264.9h2v4.5h-2zM875.3 1264.4h2v2.0h-2zM875.8 1264.4h1v8.0h-1zM882.2 1266.4h2v3.0h-2zM896.4 1268.1h2v2.0h-2zM900.7 1263.1h2v5.0h-2zM905.7 1271.3h2v4.2h-2zM912.6 1268.8h2v3.0h-2zM913.1 1264.8h1v8.0h-1zM923.1 1271.3h2v2.0h-2zM923.6 1268.3h1v11.0h-1zM926.9 1271.8h2v8.7h-2zM927.4 1267.8h1v13.7h-1zM928.8 1267.4h2v4.5h-2zM929.3 1264.4h1v8.5h-1zM934.6 1274.8h2v2.0h-2zM935.1 1271.8h1v8.0h-1zM937.6 1270.6h2v4.2h-2zM940.1 1266.9h2v3.7h-2zM947.5 1289.3h2v8.7h-2zM948.0 1283.3h1v18.7h-1zM951.3 1288.0h2v2.0h-2zM951.8 1282.0h1v12.0h-1zM957.5 1285.5h2v5.0h-2zM962.7 1283.1h2v5.7h-2zM963.2 1280.1h1v9.7h-1zM966.4 1281.8h2v2.0h-2zM970.2 1279.3h2v2.5h-2zM970.7 1277.3h1v6.5h-1zM979.4 1279.3h2v10.0h-2zM985.1 1284.3h2v5.0h-2zM992.6 1280.6h2v6.2h-2zM1000.1 1270.6h2v11.2h-2zM1020.7 1294.3h2v17.4h-2zM1021.2 1292.3h1v22.4h-1zM1033.2 1300.5h2v7.5h-2zM1033.7 1298.5h1v10.5h-1zM1046.2 1324.5h2v2.1h-2zM1052.4 1314.2h2v16.2h-2zM1052.9 1314.2h1v17.2h-1zM1058.1 1332.9h2v2.5h-2zM1062.4 1324.2h2v11.2h-2zM1062.9 1321.2h1v16.2h-1zM1066.1 1322.9h2v2.0h-2zM1069.8 1321.7h2v2.0h-2zM1070.3 1320.7h1v9.0h-1zM1073.6 1317.9h2v3.7h-2zM1077.3 1315.5h2v2.5h-2zM1077.8 1313.5h1v10.5h-1zM1081.1 1309.2h2v6.2h-2zM1081.6 1303.2h1v13.2h-1zM1083.5 1306.7h2v2.5h-2zM1101.0 1303.0h2v3.7h-2zM1102.2 1283.1h2v19.9h-2zM1102.7 1277.1h1v31.9h-1zM1104.0 1280.6h2v2.5h-2zM1109.7 1285.5h2v3.7h-2zM1110.2 1285.5h1v3.7h-1zM1116.4 1279.3h2v6.2h-2zM1116.9 1276.3h1v13.2h-1zM1118.4 1271.8h2v7.5h-2zM1118.9 1269.8h1v13.5h-1zM1123.4 1280.6h2v2.0h-2zM1123.9 1277.6h1v11.0h-1zM1125.9 1266.9h2v13.7h-2zM1126.4 1260.9h1v21.7h-1zM1127.9 1263.1h2v3.7h-2zM1128.4 1260.1h1v10.7h-1zM1130.9 1243.2h2v27.4h-2zM1131.4 1241.2h1v29.4h-1zM1134.6 1244.4h2v19.9h-2zM1144.6 1250.7h2v2.5h-2zM1145.1 1247.7h1v9.5h-1zM1148.3 1244.4h2v6.2h-2zM1148.8 1242.4h1v10.2h-1zM1150.8 1234.5h2v10.0h-2zM1157.8 1225.7h2v13.7h-2zM1162.6 1232.0h2v3.7h-2zM1167.0 1245.7h2v2.0h-2zM1169.5 1236.9h2v8.7h-2zM1170.0 1232.9h1v14.7h-1zM1172.0 1234.5h2v2.5h-2zM1172.5 1231.5h1v9.5h-1zM1179.5 1234.0h2v3.0h-2zM1187.0 1231.5h2v3.0h-2zM1187.5 1225.5h1v11.0h-1zM1196.9 1233.2h2v2.0h-2zM1197.4 1229.2h1v9.0h-1zM1205.2 1232.0h2v6.2h-2zM1205.7 1231.0h1v10.2h-1zM1209.4 1234.5h2v3.7h-2zM1225.6 1226.5h2v2.0h-2zM1226.1 1226.5h1v4.0h-1zM1238.1 1237.4h2v2.0h-2zM1252.5 1246.9h2v10.0h-2zM1253.0 1240.9h1v20.0h-1zM1259.2 1246.9h2v2.0h-2zM1259.7 1240.9h1v14.0h-1zM1277.9 1266.9h2v5.0h-2zM1279.2 1249.4h2v17.4h-2zM1279.7 1249.4h1v21.4h-1zM117.2 1334.1h1v11.2h-1zM291.9 1300.5h1v13.2h-1zM308.6 1296.8h1v13.7h-1zM286.2 1260.1h2v39.1h-2zM311.1 1251.4h2v54.1h-2zM463.6 1133.5h1v6.2h-1zM332.0 1231.5h2v35.4h-2zM510.7 1083.7h2v63.6h-2zM542.3 1202.1h1v17.4h-1zM763.1 1246.9h1v19.9h-1zM857.6 1252.6h1v13.0h-1zM624.5 1208.3h1v13.7h-1zM593.1 1136.0h2v40.6h-2zM606.1 1107.9h2v124.1h-2zM610.3 1130.3h2v109.7h-2zM796.5 1249.4h2v76.0h-2zM963.2 1261.9h2v21.2h-2zM1050.7 1300.5h2v31.2h-2zM1062.4 1307.2h2v29.4h-2zM1157.1 1219.0h2v21.7h-2zM1289.9 1230.2h2v36.6h-2zM1603 1351h2v9h-2zM1608 1352h2v9h-2zM1613 1353h2v8h-2zM1617 1354h1v7h-1z" fill="#26a69a"/><path d="M21.5 1335.4h2v7.5h-2zM24.5 1342.9h2v6.2h-2zM25.0 1339.9h1v9.2h-1zM29.0 1330.4h2v3.7h-2zM29.5 1329.4h1v8.7h-1zM30.5 1334.1h2v17.4h-2zM31.0 1330.1h1v24.4h-1zM34.0 1351.6h2v3.7h-2zM34.5 1345.6h1v12.7h-1zM36.4 1355.3h2v6.2h-2zM36.9 1349.3h1v14.2h-1zM38.4 1361.6h2v2.0h-2zM38.9 1358.6h1v11.0h-1zM58.9 1306.7h2v2.0h-2zM59.4 1303.7h1v8.0h-1zM62.6 1308.5h2v4.5h-2zM65.1 1313.0h2v23.7h-2zM72.6 1314.7h2v10.7h-2zM73.1 1310.7h1v15.7h-1zM76.3 1325.4h2v3.7h-2zM80.1 1329.2h2v3.7h-2zM83.8 1332.9h2v3.7h-2zM84.3 1331.9h1v5.7h-1zM86.3 1336.6h2v3.7h-2zM90.0 1340.4h2v2.5h-2zM90.5 1334.4h1v9.5h-1zM103.7 1326.7h2v2.0h-2zM105.7 1327.9h2v22.4h-2zM111.2 1334.1h2v2.5h-2zM123.7 1333.6h2v2.0h-2zM124.2 1334.1h2v7.5h-2zM128.7 1328.7h2v2.0h-2zM129.2 1322.7h1v10.0h-1zM133.6 1327.9h2v2.6h-2zM134.1 1324.9h1v8.6h-1zM141.1 1324.8h2v2.0h-2zM143.6 1325.4h2v3.7h-2zM149.8 1322.9h2v2.5h-2zM153.6 1325.4h2v2.0h-2zM154.1 1323.4h1v10.0h-1zM157.3 1325.4h2v3.2h-2zM181.0 1307.2h2v2.0h-2zM184.7 1308.7h2v2.0h-2zM185.2 1305.7h1v9.0h-1zM186.5 1309.2h2v2.5h-2zM187.0 1303.2h1v12.5h-1zM195.9 1287.3h2v3.2h-2zM198.4 1290.5h2v7.5h-2zM198.9 1284.5h1v14.5h-1zM202.2 1298.0h2v5.0h-2zM202.7 1292.0h1v14.0h-1zM205.4 1303.0h2v5.0h-2zM213.4 1303.0h2v5.0h-2zM213.9 1303.0h1v8.0h-1zM218.4 1305.5h2v5.0h-2zM218.9 1302.5h1v9.0h-1zM222.1 1288.0h2v7.5h-2zM222.6 1286.0h1v12.5h-1zM227.8 1291.8h2v5.0h-2zM228.3 1289.8h1v10.0h-1zM235.3 1294.3h2v7.5h-2zM242.1 1281.8h2v6.2h-2zM244.5 1288.0h2v2.5h-2zM245.0 1288.0h1v6.5h-1zM247.0 1290.5h2v3.7h-2zM247.5 1289.5h1v4.7h-1zM250.8 1294.3h2v2.0h-2zM251.3 1291.3h1v11.0h-1zM258.3 1290.5h2v2.5h-2zM258.8 1287.5h1v9.5h-1zM263.2 1283.1h2v2.5h-2zM276.9 1264.4h2v7.5h-2zM277.4 1263.4h1v14.5h-1zM279.4 1271.8h2v2.5h-2zM279.9 1271.8h1v4.5h-1zM281.9 1274.3h2v2.0h-2zM282.4 1268.3h1v10.0h-1zM286.2 1274.8h2v24.4h-2zM289.4 1299.3h2v2.0h-2zM289.9 1293.3h1v12.0h-1zM291.4 1300.5h2v6.2h-2zM296.9 1285.5h2v10.0h-2zM297.4 1282.5h1v17.0h-1zM299.4 1295.5h2v3.7h-2zM304.4 1293.0h2v3.7h-2zM306.9 1296.8h2v8.7h-2zM310.6 1296.8h2v8.7h-2zM313.1 1279.3h2v2.0h-2zM318.1 1273.1h2v10.0h-2zM318.6 1272.1h1v11.0h-1zM331.0 1266.9h2v2.0h-2zM334.3 1234.5h2v19.9h-2zM334.8 1232.5h1v21.9h-1zM336.0 1254.4h2v17.4h-2zM336.5 1248.4h1v27.4h-1zM342.2 1238.2h2v6.2h-2zM342.7 1238.2h1v9.2h-1zM362.9 1209.5h2v2.0h-2zM363.4 1203.5h1v11.0h-1zM365.9 1209.5h2v16.2h-2zM366.4 1208.5h1v23.2h-1zM370.9 1219.5h2v2.0h-2zM382.9 1209.5h2v11.2h-2zM385.4 1220.7h2v2.5h-2zM385.9 1214.7h1v14.5h-1zM388.3 1223.2h2v2.0h-2zM388.8 1223.2h1v4.0h-1zM391.6 1223.2h2v11.2h-2zM394.1 1234.5h2v7.5h-2zM395.8 1241.9h2v11.2h-2zM401.6 1240.7h2v2.0h-2zM402.1 1234.7h1v12.0h-1zM409.0 1241.4h2v2.0h-2zM409.5 1239.4h1v4.0h-1zM410.3 1241.9h2v10.0h-2zM412.8 1251.9h2v2.5h-2zM413.3 1251.9h1v8.5h-1zM417.0 1248.2h2v16.2h-2zM419.0 1264.4h2v13.7h-2zM419.5 1262.4h1v21.7h-1zM428.2 1225.7h2v33.6h-2zM428.7 1221.7h1v43.6h-1zM431.5 1217.0h2v3.7h-2zM432.0 1217.0h1v5.7h-1zM437.7 1219.5h2v2.5h-2zM438.2 1216.5h1v8.5h-1zM443.9 1212.0h2v19.9h-2zM450.2 1225.7h2v2.0h-2zM450.7 1225.7h1v6.0h-1zM455.6 1223.2h2v2.5h-2zM458.9 1163.4h2v2.5h-2zM459.4 1159.4h1v12.5h-1zM465.1 1134.8h2v12.5h-2zM467.6 1136.0h2v2.5h-2zM468.1 1130.0h1v11.5h-1zM470.1 1138.5h2v2.5h-2zM472.1 1141.0h2v12.5h-2zM473.8 1153.5h2v56.1h-2zM475.1 1209.5h2v17.4h-2zM475.6 1209.5h1v19.4h-1zM486.3 1209.5h2v2.5h-2zM495.0 1204.5h2v2.5h-2zM497.5 1207.0h2v8.7h-2zM498.0 1203.0h1v12.7h-1zM494.0 1205.0h2v2.0h-2zM494.5 1199.0h1v9.0h-1zM496.9 1207.0h2v10.0h-2zM503.9 1213.3h2v2.0h-2zM504.4 1210.3h1v8.0h-1zM505.9 1213.3h2v6.2h-2zM506.4 1209.3h1v12.2h-1zM510.9 1147.2h2v2.0h-2zM512.6 1148.5h2v6.2h-2zM514.4 1154.7h2v36.1h-2zM514.9 1151.7h1v43.1h-1zM518.9 1184.6h2v2.5h-2zM519.4 1183.6h1v3.5h-1zM522.6 1187.1h2v2.5h-2zM523.1 1181.1h1v10.5h-1zM532.6 1222.0h2v2.0h-2zM533.1 1219.0h1v7.0h-1zM538.8 1222.0h2v5.0h-2zM539.3 1219.0h1v8.0h-1zM540.6 1227.0h2v7.5h-2zM541.1 1223.0h1v11.5h-1zM544.3 1209.5h2v6.2h-2zM544.8 1205.5h1v14.2h-1zM553.0 1209.5h2v12.5h-2zM561.2 1210.8h2v5.0h-2zM561.7 1207.8h1v12.0h-1zM563.7 1215.8h2v5.0h-2zM567.5 1220.7h2v5.0h-2zM571.2 1225.7h2v2.0h-2zM571.7 1225.7h1v4.0h-1zM575.0 1225.7h2v2.0h-2zM575.5 1224.7h1v6.0h-1zM576.7 1225.7h2v11.2h-2zM577.2 1225.7h1v11.2h-1zM583.7 1232.0h2v2.5h-2zM589.9 1230.7h2v6.2h-2zM596.1 1137.3h2v2.0h-2zM605.1 1229.5h2v2.5h-2zM605.6 1228.5h1v6.5h-1zM608.1 1109.8h2v7.0h-2zM608.6 1108.8h1v14.0h-1zM609.6 1116.8h2v15.5h-2zM610.1 1116.8h1v17.5h-1zM610.3 1132.3h2v107.2h-2zM613.1 1132.3h2v62.3h-2zM616.6 1169.7h2v68.5h-2zM619.8 1238.2h2v2.0h-2zM626.0 1209.5h2v13.7h-2zM628.5 1223.2h2v3.7h-2zM629.0 1219.2h1v10.7h-1zM631.5 1227.0h2v2.5h-2zM634.8 1229.5h2v3.7h-2zM635.3 1227.5h1v7.7h-1zM638.5 1233.2h2v2.5h-2zM639.0 1233.2h1v4.5h-1zM642.2 1235.7h2v2.0h-2zM642.7 1234.7h1v6.0h-1zM643.5 1236.9h2v16.2h-2zM644.0 1235.9h1v23.2h-1zM645.5 1253.1h2v11.2h-2zM647.2 1264.4h2v12.5h-2zM647.7 1263.4h1v13.5h-1zM648.5 1276.8h2v8.7h-2zM649.0 1275.8h1v9.7h-1zM657.9 1251.4h2v2.5h-2zM663.9 1249.4h2v7.5h-2zM664.4 1249.4h1v13.5h-1zM665.9 1256.9h2v19.9h-2zM666.4 1254.9h1v23.9h-1zM668.9 1276.8h2v2.5h-2zM671.4 1279.3h2v6.2h-2zM671.9 1273.3h1v14.2h-1zM673.6 1264.4h2v32.4h-2zM674.1 1258.4h1v41.4h-1zM677.6 1295.5h2v7.5h-2zM678.1 1294.5h1v10.5h-1zM679.6 1303.0h2v2.5h-2zM680.1 1302.0h1v4.5h-1zM683.9 1295.5h2v3.7h-2zM684.4 1294.5h1v6.7h-1zM693.3 1289.3h2v2.0h-2zM693.8 1285.3h1v6.0h-1zM699.6 1288.8h2v5.5h-2zM702.6 1294.3h2v2.5h-2zM708.3 1291.8h2v2.0h-2zM715.8 1287.3h2v2.0h-2zM716.3 1285.3h1v5.0h-1zM718.8 1287.3h2v2.0h-2zM736.9 1293.8h2v2.0h-2zM737.4 1289.8h1v8.0h-1zM745.7 1266.9h2v13.7h-2zM746.2 1263.9h1v17.7h-1zM748.2 1274.3h2v7.5h-2zM752.4 1278.1h2v6.2h-2zM752.9 1274.1h1v10.2h-1zM765.6 1249.4h2v7.5h-2zM766.1 1248.4h1v12.5h-1zM767.6 1256.9h2v2.0h-2zM769.3 1258.1h2v8.7h-2zM773.1 1266.9h2v3.7h-2zM773.6 1264.9h1v6.7h-1zM776.8 1256.9h2v2.5h-2zM777.3 1250.9h1v8.5h-1zM786.8 1251.4h2v4.2h-2zM787.3 1248.4h1v10.2h-1zM788.8 1255.6h2v5.0h-2zM789.3 1249.6h1v13.0h-1zM800.5 1253.1h2v6.2h-2zM806.0 1251.9h2v2.0h-2zM806.5 1249.9h1v10.0h-1zM809.2 1253.1h2v2.0h-2zM809.7 1251.1h1v10.0h-1zM811.7 1254.4h2v10.0h-2zM817.9 1256.9h2v2.0h-2zM820.9 1258.1h2v2.0h-2zM821.4 1258.1h1v8.0h-1zM824.2 1234.5h2v2.0h-2zM824.7 1230.5h1v6.0h-1zM826.7 1235.7h2v2.5h-2zM827.2 1231.7h1v7.5h-1zM829.7 1238.2h2v3.7h-2zM830.2 1238.2h1v4.7h-1zM832.1 1249.4h2v6.2h-2zM839.1 1265.6h2v2.0h-2zM841.6 1259.4h2v2.5h-2zM842.1 1253.4h1v14.5h-1zM846.6 1255.6h2v2.5h-2zM849.1 1258.1h2v2.5h-2zM849.6 1257.1h1v9.5h-1zM852.1 1260.6h2v2.5h-2zM852.6 1258.6h1v4.5h-1zM854.8 1263.1h2v3.7h-2zM857.8 1259.4h2v5.0h-2zM858.3 1255.4h1v11.0h-1zM860.3 1264.4h2v3.7h-2zM860.8 1264.4h1v6.7h-1zM864.0 1268.1h2v2.0h-2zM865.8 1269.3h2v6.2h-2zM866.3 1268.3h1v8.2h-1zM879.0 1264.4h2v5.0h-2zM879.5 1261.4h1v12.0h-1zM885.7 1266.4h2v2.0h-2zM886.2 1263.4h1v5.0h-1zM889.0 1268.1h2v2.0h-2zM892.7 1269.3h2v2.0h-2zM893.2 1268.3h1v5.0h-1zM902.7 1263.1h2v12.5h-2zM908.9 1271.3h2v2.0h-2zM909.4 1268.3h1v9.0h-1zM916.4 1268.8h2v2.0h-2zM920.1 1270.6h2v2.0h-2zM924.6 1271.3h2v9.2h-2zM931.3 1267.4h2v8.2h-2zM931.8 1267.4h1v9.2h-1zM942.1 1266.9h2v29.9h-2zM945.0 1296.8h2v2.0h-2zM955.0 1288.0h2v2.5h-2zM955.5 1284.0h1v6.5h-1zM973.9 1279.3h2v2.0h-2zM976.4 1280.6h2v8.7h-2zM976.9 1276.6h1v16.7h-1zM982.6 1279.3h2v10.0h-2zM983.1 1275.3h1v18.0h-1zM988.8 1284.3h2v2.5h-2zM989.3 1280.3h1v7.5h-1zM996.3 1280.6h2v2.0h-2zM1003.8 1270.6h2v3.7h-2zM1004.3 1264.6h1v9.7h-1zM1007.5 1274.3h2v2.5h-2zM1011.3 1276.8h2v7.5h-2zM1011.8 1273.8h1v14.5h-1zM1015.0 1284.3h2v3.7h-2zM1018.3 1288.0h2v23.7h-2zM1018.8 1285.0h1v27.7h-1zM1023.7 1294.3h2v2.0h-2zM1026.2 1295.5h2v10.0h-2zM1026.7 1292.5h1v16.0h-1zM1030.0 1305.5h2v2.5h-2zM1036.2 1300.5h2v16.2h-2zM1036.7 1296.5h1v23.2h-1zM1039.9 1316.7h2v8.7h-2zM1043.7 1325.4h2v2.0h-2zM1044.2 1323.4h1v5.0h-1zM1048.7 1324.5h2v2.0h-2zM1049.2 1320.5h1v8.0h-1zM1050.7 1325.4h2v5.0h-2zM1051.2 1323.4h1v8.0h-1zM1054.9 1314.2h2v21.2h-2zM1061.1 1332.9h2v2.5h-2zM1061.6 1326.9h1v8.5h-1zM1087.3 1306.7h2v5.0h-2zM1091.0 1311.7h2v2.0h-2zM1093.5 1311.7h2v6.2h-2zM1094.0 1305.7h1v18.2h-1zM1097.3 1317.9h2v2.0h-2zM1106.5 1280.6h2v8.7h-2zM1113.5 1285.5h2v2.0h-2zM1114.0 1281.5h1v10.0h-1zM1120.4 1271.8h2v10.0h-2zM1129.7 1263.1h2v7.5h-2zM1132.9 1243.2h2v21.2h-2zM1137.6 1244.4h2v7.5h-2zM1138.1 1241.4h1v12.5h-1zM1140.9 1251.9h2v2.0h-2zM1141.4 1249.9h1v5.0h-1zM1153.3 1234.5h2v2.0h-2zM1155.8 1235.7h2v3.7h-2zM1156.3 1233.7h1v6.7h-1zM1160.3 1225.7h2v10.0h-2zM1164.5 1232.0h2v15.0h-2zM1165.0 1230.0h1v21.0h-1zM1175.8 1234.5h2v2.5h-2zM1183.2 1234.0h2v2.0h-2zM1183.7 1231.0h1v7.0h-1zM1190.7 1231.5h2v2.0h-2zM1191.2 1231.5h1v8.0h-1zM1193.2 1232.0h2v2.5h-2zM1193.7 1231.0h1v3.5h-1zM1200.7 1233.2h2v2.0h-2zM1203.2 1234.5h2v3.7h-2zM1206.9 1232.0h2v6.2h-2zM1207.4 1229.0h1v13.2h-1zM1211.9 1234.5h2v2.0h-2zM1213.9 1235.7h2v6.2h-2zM1218.6 1219.5h2v6.2h-2zM1221.9 1225.7h2v2.0h-2zM1222.4 1223.7h1v6.0h-1zM1228.6 1226.5h2v5.5h-2zM1229.1 1226.5h1v11.5h-1zM1231.1 1232.0h2v6.2h-2zM1234.3 1238.2h2v2.0h-2zM1242.6 1219.5h2v6.2h-2zM1245.0 1225.7h2v6.2h-2zM1247.5 1232.0h2v7.5h-2zM1248.0 1231.0h1v12.5h-1zM1249.3 1239.4h2v8.7h-2zM1249.8 1235.4h1v13.7h-1zM1251.0 1248.2h2v8.7h-2zM1251.5 1247.2h1v12.7h-1zM1255.5 1246.9h2v2.0h-2zM1263.0 1246.9h2v2.5h-2zM1266.7 1249.4h2v2.0h-2zM1270.5 1249.4h2v2.0h-2zM1271.0 1249.4h1v4.0h-1zM1272.5 1250.7h2v19.9h-2zM1275.4 1270.6h2v2.0h-2zM1280.9 1249.4h2v10.0h-2zM1281.4 1249.4h1v11.0h-1zM1284.2 1259.4h2v3.7h-2zM1284.7 1255.4h1v11.7h-1zM1286.7 1263.1h2v2.5h-2zM1287.2 1257.1h1v12.5h-1zM1289.2 1265.6h2v2.0h-2zM1289.7 1264.6h1v7.0h-1zM338.5 1259.4h1v16.2h-1zM359.7 1200.3h1v10.5h-1zM346.0 1208.3h1v12.5h-1zM276.7 1263.1h1v8.7h-1zM295.4 1274.8h1v10.7h-1zM106.2 1334.1h1v17.4h-1zM65.1 1313.0h2v24.9h-2zM419.0 1255.6h2v23.2h-2zM512.1 1083.7h2v81.0h-2zM524.6 1197.1h2v37.4h-2zM840.9 1233.2h2v28.7h-2zM823.4 1222.0h1v15.0h-1zM747.4 1263.1h1v18.7h-1zM752.9 1278.1h1v15.0h-1zM804.2 1244.9h1v9.5h-1zM940.1 1264.4h2v33.6h-2zM602.9 1170.2h2v59.3h-2zM613.1 1129.3h2v65.3h-2zM616.6 1174.6h2v63.6h-2zM672.9 1264.4h2v32.4h-2zM645.5 1254.4h2v31.2h-2zM1021.2 1265.6h2v29.9h-2zM1204.9 1215.0h2v24.4h-2zM1216.9 1212.0h1v8.7h-1zM1240.6 1217.8h1v14.2h-1zM1272.5 1246.9h2v24.9h-2zM1279.7 1248.2h1v11.2h-1zM1129.7 1241.4h2v30.4h-2zM1102.2 1279.3h2v23.7h-2zM1576 1351h2v2h-2z" fill="#ef5350"/></g>
<text x="20.8" y="39.7" font-size="24" fill="#e6e6e6" textLength="171.5" lengthAdjust="spacing" stroke="#e6e6e6" stroke-width="0.45">dorian_batycka</text>
<text x="201.5" y="39.7" font-size="24" fill="#e6e6e6" textLength="47.5" lengthAdjust="spacing" stroke="#e6e6e6" stroke-width="0.45">créé</text>
<text x="257.5" y="39.7" font-size="24" fill="#e6e6e6" textLength="50" lengthAdjust="spacing" stroke="#e6e6e6" stroke-width="0.45">avec</text>
<text x="317.5" y="39.7" font-size="24" fill="#e6e6e6" textLength="197" lengthAdjust="spacing" stroke="#e6e6e6" stroke-width="0.45">TradingView.com,</text>
<text x="524" y="39.7" font-size="24" fill="#e6e6e6" textLength="41" lengthAdjust="spacing" stroke="#e6e6e6" stroke-width="0.45">Déc</text>
<text x="575" y="39.7" font-size="24" fill="#e6e6e6" textLength="30" lengthAdjust="spacing" stroke="#e6e6e6" stroke-width="0.45">16,</text>
<text x="614" y="39.7" font-size="24" fill="#e6e6e6" textLength="57.5" lengthAdjust="spacing" stroke="#e6e6e6" stroke-width="0.45">2025</text>
<text x="680" y="39.7" font-size="24" fill="#e6e6e6" textLength="60" lengthAdjust="spacing" stroke="#e6e6e6" stroke-width="0.45">13:05</text>
<text x="750" y="39.7" font-size="24" fill="#e6e6e6" textLength="48" lengthAdjust="spacing" stroke="#e6e6e6" stroke-width="0.45">UTC</text>
<text x="37" y="93.7" font-size="23.5" fill="#c4c4c4" textLength="46.6" lengthAdjust="spacing" stroke="#c4c4c4" stroke-width="0.3">ADA</text>
<text x="93.5" y="93.7" font-size="23.5" fill="#c4c4c4" stroke="#c4c4c4" stroke-width="0.3">/</text>
<text x="107.3" y="93.7" font-size="23.5" fill="#c4c4c4" textLength="44.8" lengthAdjust="spacing" stroke="#c4c4c4" stroke-width="0.3">UST</text>
<text x="161.1" y="93.7" font-size="23.5" fill="#c4c4c4" stroke="#c4c4c4" stroke-width="0.3">·</text>
<text x="176.5" y="93.7" font-size="23.5" fill="#c4c4c4" textLength="26.2" lengthAdjust="spacing" stroke="#c4c4c4" stroke-width="0.3">30</text>
<text x="211.5" y="93.7" font-size="23.5" fill="#c4c4c4" stroke="#c4c4c4" stroke-width="0.3">·</text>
<text x="227.4" y="93.7" font-size="23.5" fill="#c4c4c4" textLength="81.7" lengthAdjust="spacing" stroke="#c4c4c4" stroke-width="0.3">Bitfinex</text>
<text x="324.8" y="93.7" font-size="23.5" fill="#c4c4c4" stroke="#c4c4c4" stroke-width="0.3">O</text>
<text x="343.5" y="93.7" font-size="23.5" fill="#089981" textLength="135.2" lengthAdjust="spacing" stroke="#089981" stroke-width="0.3">0,38661000</text>
<text x="495.3" y="93.7" font-size="23.5" fill="#c4c4c4" stroke="#c4c4c4" stroke-width="0.3">H</text>
<text x="512.3" y="93.7" font-size="23.5" fill="#089981" textLength="135.2" lengthAdjust="spacing" stroke="#089981" stroke-width="0.3">0,38661000</text>
<text x="664" y="93.7" font-size="23.5" fill="#c4c4c4" stroke="#c4c4c4" stroke-width="0.3">B</text>
<text x="680.3" y="93.7" font-size="23.5" fill="#089981" textLength="135.2" lengthAdjust="spacing" stroke="#089981" stroke-width="0.3">0,38661000</text>
<text x="831.3" y="93.7" font-size="23.5" fill="#c4c4c4" stroke="#c4c4c4" stroke-width="0.3">C</text>
<text x="848.3" y="93.7" font-size="23.5" fill="#089981" textLength="135.2" lengthAdjust="spacing" stroke="#089981" stroke-width="0.3">0,38661000</text>
<text x="1000" y="93.7" font-size="23.5" fill="#089981" textLength="262" lengthAdjust="spacing" stroke="#089981" stroke-width="0.3">−0,00341000 (−0,87%)</text>
<rect x="1734" y="62" width="164" height="52" rx="8" fill="#0f0f0f" stroke="#2e2e2e" stroke-width="2" shape-rendering="auto"/>
<text x="1752.6" y="96.3" font-size="25" fill="#e8e8e8" textLength="65" lengthAdjust="spacing" stroke="#e8e8e8" stroke-width="0.3">USDT</text>
<text x="1745.5" y="144.0" font-size="23.7" fill="#c3c3c3" textLength="141" lengthAdjust="spacing" stroke="#c3c3c3" stroke-width="0.3">0,48000000</text>
<text x="1745.5" y="206.0" font-size="23.7" fill="#c3c3c3" textLength="141" lengthAdjust="spacing" stroke="#c3c3c3" stroke-width="0.3">0,47000000</text>
<text x="1745.5" y="268.0" font-size="23.7" fill="#c3c3c3" textLength="141" lengthAdjust="spacing" stroke="#c3c3c3" stroke-width="0.3">0,46000000</text>
<text x="1745.5" y="330.0" font-size="23.7" fill="#c3c3c3" textLength="141" lengthAdjust="spacing" stroke="#c3c3c3" stroke-width="0.3">0,45000000</text>
<text x="1745.5" y="392.0" font-size="23.7" fill="#c3c3c3" textLength="141" lengthAdjust="spacing" stroke="#c3c3c3" stroke-width="0.3">0,44000000</text>
<text x="1745.5" y="454.0" font-size="23.7" fill="#c3c3c3" textLength="141" lengthAdjust="spacing" stroke="#c3c3c3" stroke-width="0.3">0,43000000</text>
<text x="1745.5" y="516.0" font-size="23.7" fill="#c3c3c3" textLength="141" lengthAdjust="spacing" stroke="#c3c3c3" stroke-width="0.3">0,42000000</text>
<text x="1745.5" y="578.0" font-size="23.7" fill="#c3c3c3" textLength="141" lengthAdjust="spacing" stroke="#c3c3c3" stroke-width="0.3">0,41000000</text>
<text x="1745.5" y="640.0" font-size="23.7" fill="#c3c3c3" textLength="141" lengthAdjust="spacing" stroke="#c3c3c3" stroke-width="0.3">0,40000000</text>
<text x="1745.5" y="702.0" font-size="23.7" fill="#c3c3c3" textLength="141" lengthAdjust="spacing" stroke="#c3c3c3" stroke-width="0.3">0,39000000</text>
<text x="1745.5" y="764.0" font-size="23.7" fill="#c3c3c3" textLength="141" lengthAdjust="spacing" stroke="#c3c3c3" stroke-width="0.3">0,38000000</text>
<text x="1745.5" y="826.0" font-size="23.7" fill="#c3c3c3" textLength="141" lengthAdjust="spacing" stroke="#c3c3c3" stroke-width="0.3">0,37000000</text>
<path d="M1728 700h166a4 4 0 0 1 4 4v26a4 4 0 0 1 -4 4h-166z" fill="#089981" shape-rendering="auto"/>
<text x="1745.5" y="723.3" font-size="23.7" fill="#ffffff" textLength="141" lengthAdjust="spacing" stroke="#ffffff" stroke-width="0.3">0,38661000</text>
<clipPath id="cp"><rect x="1680" y="780" width="46.3" height="54"/></clipPath>
<g clip-path="url(#cp)" shape-rendering="auto"><circle cx="1707.2" cy="809" r="19.65" fill="#0f0f0f" stroke="#b74cd0" stroke-width="3.1"/><path d="M1712.6 798 L1698.3 810 L1706.4 810.2 L1700.2 818.3 L1701.8 820 L1716 808.3 L1708.5 807.8 L1714.1 799.5 Z" fill="#b74cd0"/></g>
<text x="36.3" y="875.9" font-size="23.5" fill="#c4c4c4" textLength="149.2" lengthAdjust="spacing" stroke="#c4c4c4" stroke-width="0.3">Up/Dn Vol (1)</text>
<text x="199" y="875.9" font-size="23.5" fill="#4caf50" stroke="#4caf50" stroke-width="0.3">0</text>
<text x="228" y="875.9" font-size="23.5" fill="#f23645" textLength="59" lengthAdjust="spacing" stroke="#f23645" stroke-width="0.3">−934</text>
<text x="302" y="875.9" font-size="23.5" fill="#f23645" textLength="60" lengthAdjust="spacing" stroke="#f23645" stroke-width="0.3">−934</text>
<text x="1745" y="897.2" font-size="23.7" fill="#c3c3c3" textLength="63" lengthAdjust="spacing" stroke="#c3c3c3" stroke-width="0.3">400 K</text>
<path d="M1728 962h38a4 4 0 0 1 4 4v30h-42z" fill="#4caf50" shape-rendering="auto"/>
<text x="1745" y="987.4" font-size="23.7" fill="#fff" stroke="#fff" stroke-width="0.3">0</text>
<path d="M1728 996h84a4 4 0 0 1 4 4v26a4 4 0 0 1 -4 4h-84z" fill="#f23645" shape-rendering="auto"/>
<text x="1745" y="1021.3" font-size="23.7" fill="#fff" textLength="58.5" lengthAdjust="spacing" stroke="#fff" stroke-width="0.3">−934</text>
<text x="1745.5" y="1069.5" font-size="23.7" fill="#c3c3c3" textLength="68" lengthAdjust="spacing" stroke="#c3c3c3" stroke-width="0.3">325 M</text>
<text x="1745.5" y="1131.8" font-size="23.7" fill="#c3c3c3" textLength="68" lengthAdjust="spacing" stroke="#c3c3c3" stroke-width="0.3">300 M</text>
<text x="1745.5" y="1194.2" font-size="23.7" fill="#c3c3c3" textLength="68" lengthAdjust="spacing" stroke="#c3c3c3" stroke-width="0.3">275 M</text>
<text x="1745.5" y="1256.5" font-size="23.7" fill="#c3c3c3" textLength="68" lengthAdjust="spacing" stroke="#c3c3c3" stroke-width="0.3">250 M</text>
<text x="1745.5" y="1318.9" font-size="23.7" fill="#c3c3c3" textLength="68" lengthAdjust="spacing" stroke="#c3c3c3" stroke-width="0.3">225 M</text>
<text x="1745.5" y="1381.2" font-size="23.7" fill="#c3c3c3" textLength="68" lengthAdjust="spacing" stroke="#c3c3c3" stroke-width="0.3">200 M</text>
<path d="M1728 1305h130a4 4 0 0 1 4 4v26a4 4 0 0 1 -4 4h-130z" fill="#ef5350" shape-rendering="auto"/>
<text x="1745.5" y="1330.3" font-size="23.7" fill="#fff" textLength="104" lengthAdjust="spacing" stroke="#fff" stroke-width="0.3">220,54 M</text>
<rect x="1292.4" y="1067.3" width="414.29999999999995" height="283.0" fill="#1e1e1e" stroke="#787b86" stroke-width="2"/>
<rect x="1293.4" y="1068.3" width="412.29999999999995" height="46.5" fill="#242424"/>
<rect x="1293.4" y="1114.8" width="412.29999999999995" height="47.0" fill="#1e1e1e"/>
<rect x="1293.4" y="1161.8" width="412.29999999999995" height="47.0" fill="#242424"/>
<rect x="1293.4" y="1208.8" width="412.29999999999995" height="47.1" fill="#1e1e1e"/>
<rect x="1293.4" y="1255.9" width="412.29999999999995" height="47.0" fill="#242424"/>
<rect x="1293.4" y="1302.9" width="412.29999999999995" height="46.4" fill="#1e1e1e"/>
<g shape-rendering="auto"><circle cx="1351.8" cy="1081.4" r="5.6" fill="none" stroke="#a0a0a0" stroke-width="1.6"/><path d="M1346.3 1088.5L1357.3 1074.3" stroke="#a0a0a0" stroke-width="1.6"/><circle cx="1382.7" cy="1081.4" r="5.6" fill="none" stroke="#a0a0a0" stroke-width="1.6"/><path d="M1377.2 1088.5L1388.2 1074.3" stroke="#a0a0a0" stroke-width="1.6"/><circle cx="1413.6" cy="1081.4" r="5.6" fill="none" stroke="#a0a0a0" stroke-width="1.6"/><path d="M1408.1 1088.5L1419.1 1074.3" stroke="#a0a0a0" stroke-width="1.6"/><circle cx="1444.5" cy="1081.4" r="5.6" fill="none" stroke="#a0a0a0" stroke-width="1.6"/><path d="M1439.0 1088.5L1450.0 1074.3" stroke="#a0a0a0" stroke-width="1.6"/><circle cx="1475.4" cy="1081.4" r="5.6" fill="none" stroke="#a0a0a0" stroke-width="1.6"/><path d="M1469.9 1088.5L1480.9 1074.3" stroke="#a0a0a0" stroke-width="1.6"/><circle cx="1506.3" cy="1081.4" r="5.6" fill="none" stroke="#a0a0a0" stroke-width="1.6"/><path d="M1500.8 1088.5L1511.8 1074.3" stroke="#a0a0a0" stroke-width="1.6"/><circle cx="1537.2" cy="1081.4" r="5.6" fill="none" stroke="#a0a0a0" stroke-width="1.6"/><path d="M1531.7 1088.5L1542.7 1074.3" stroke="#a0a0a0" stroke-width="1.6"/><circle cx="1568.1" cy="1081.4" r="5.6" fill="none" stroke="#a0a0a0" stroke-width="1.6"/><path d="M1562.6 1088.5L1573.6 1074.3" stroke="#a0a0a0" stroke-width="1.6"/><circle cx="1599.0" cy="1081.4" r="5.6" fill="none" stroke="#a0a0a0" stroke-width="1.6"/><path d="M1593.5 1088.5L1604.5 1074.3" stroke="#a0a0a0" stroke-width="1.6"/><circle cx="1629.9" cy="1081.4" r="5.6" fill="none" stroke="#a0a0a0" stroke-width="1.6"/><path d="M1624.4 1088.5L1635.4 1074.3" stroke="#a0a0a0" stroke-width="1.6"/><circle cx="1660.8" cy="1081.4" r="5.6" fill="none" stroke="#a0a0a0" stroke-width="1.6"/><path d="M1655.3 1088.5L1666.3 1074.3" stroke="#a0a0a0" stroke-width="1.6"/><circle cx="1691.7" cy="1081.4" r="5.6" fill="none" stroke="#a0a0a0" stroke-width="1.6"/><path d="M1686.2 1088.5L1697.2 1074.3" stroke="#a0a0a0" stroke-width="1.6"/></g>
<text x="1302.6" y="1102" font-size="28" fill="#ffffff" textLength="243" lengthAdjust="spacing" stroke="#ffffff" stroke-width="0.3">AE - OI Aggregator</text>
<text x="1623.5" y="1102" font-size="28" fill="#ffffff" stroke="#ffffff" stroke-width="0.3">$</text>
<text x="1302.6" y="1148.8" font-size="28" fill="#ffffff" textLength="179.3" lengthAdjust="spacing" stroke="#ffffff" stroke-width="0.3">Aggregate OI:</text>
<text x="1559.6" y="1148.8" font-size="28" fill="#ef5350" textLength="135.7" lengthAdjust="spacing" stroke="#ef5350" stroke-width="0.3">220.537M</text>
<text x="1302.6" y="1195.5" font-size="28" fill="#ffffff" textLength="206.9" lengthAdjust="spacing" stroke="#ffffff" stroke-width="0.3">Recent Change:</text>
<text x="1580.6" y="1195.5" font-size="28" fill="#ef5350" textLength="114.7" lengthAdjust="spacing" stroke="#ef5350" stroke-width="0.3">-1.042M</text>
<text x="1302.6" y="1242.2" font-size="28" fill="#ffffff" textLength="197.6" lengthAdjust="spacing" stroke="#ffffff" stroke-width="0.3">Bullish Activity:</text>
<text x="1576.6" y="1242.2" font-size="28" fill="#26a69a" textLength="118.7" lengthAdjust="spacing" stroke="#26a69a" stroke-width="0.3">10.324M</text>
<text x="1302.6" y="1289.2" font-size="28" fill="#ffffff" textLength="209.1" lengthAdjust="spacing" stroke="#ffffff" stroke-width="0.3">Bearish Activity:</text>
<text x="1576.6" y="1289.2" font-size="28" fill="#ef5350" textLength="118.7" lengthAdjust="spacing" stroke="#ef5350" stroke-width="0.3">10.477M</text>
<text x="1302.6" y="1336.3" font-size="28" fill="#ffffff" textLength="197.6" lengthAdjust="spacing" stroke="#ffffff" stroke-width="0.3">Bull/Bear Ratio:</text>
<text x="1635" y="1336.3" font-size="28" fill="#ef5350" textLength="59.2" lengthAdjust="spacing" stroke="#ef5350" stroke-width="0.3">0.99</text>
<text x="37" y="1088" font-size="23.5" fill="#c4c4c4" textLength="131.5" lengthAdjust="spacing" stroke="#c4c4c4" stroke-width="0.3">Aggregated</text>
<text x="175" y="1088" font-size="23.5" fill="#c4c4c4" textLength="59.8" lengthAdjust="spacing" stroke="#c4c4c4" stroke-width="0.3">Open</text>
<text x="242.6" y="1088" font-size="23.5" fill="#c4c4c4" textLength="85.2" lengthAdjust="spacing" stroke="#c4c4c4" stroke-width="0.3">Interest</text>
<text x="338.5" y="1088" font-size="23.5" fill="#c4c4c4" textLength="69.0" lengthAdjust="spacing" stroke="#c4c4c4" stroke-width="0.3">[Alpha</text>
<text x="416.3" y="1088" font-size="23.5" fill="#c4c4c4" textLength="86.1" lengthAdjust="spacing" stroke="#c4c4c4" stroke-width="0.3">Extract]</text>
<text x="513.6" y="1088" font-size="23.5" fill="#c4c4c4" textLength="67.4" lengthAdjust="spacing" stroke="#c4c4c4" stroke-width="0.3">(Open</text>
<text x="589.7" y="1088" font-size="23.5" fill="#c4c4c4" textLength="90.9" lengthAdjust="spacing" stroke="#c4c4c4" stroke-width="0.3">Interest,</text>
<text x="690" y="1088" font-size="23.5" fill="#c4c4c4" textLength="53" lengthAdjust="spacing" stroke="#c4c4c4" stroke-width="0.3">USD,</text>
<text x="752.9" y="1088" font-size="23.5" fill="#c4c4c4" textLength="32.4" lengthAdjust="spacing" stroke="#c4c4c4" stroke-width="0.3">50,</text>
<text x="795.3" y="1088" font-size="23.5" fill="#c4c4c4" textLength="31.1" lengthAdjust="spacing" stroke="#c4c4c4" stroke-width="0.3">14,</text>
<text x="835.9" y="1088" font-size="23.5" fill="#c4c4c4" textLength="32.9" lengthAdjust="spacing" stroke="#c4c4c4" stroke-width="0.3">20,</text>
<text x="878.3" y="1088" font-size="23.5" fill="#c4c4c4" textLength="21.1" lengthAdjust="spacing" stroke="#c4c4c4" stroke-width="0.3">5)</text>
<text x="915" y="1088" font-size="23.5" fill="#ef5350" textLength="84" lengthAdjust="spacing" stroke="#ef5350" stroke-width="0.3">221,8 M</text>
<text x="1014" y="1088" font-size="23.5" fill="#ef5350" textLength="84" lengthAdjust="spacing" stroke="#ef5350" stroke-width="0.3">221,8 M</text>
<text x="1113" y="1088" font-size="23.5" fill="#ef5350" textLength="99" lengthAdjust="spacing" stroke="#ef5350" stroke-width="0.3">220,51 M</text>
<text x="1227" y="1088" font-size="23.5" fill="#ef5350" textLength="104" lengthAdjust="spacing" stroke="#ef5350" stroke-width="0.3">220,54 M</text>
<text x="35.3" y="1431.5" font-size="23.7" fill="#c3c3c3" textLength="29.4" lengthAdjust="spacing" stroke="#c3c3c3" stroke-width="0.3">14</text>
<text x="173.3" y="1431.5" font-size="23.7" fill="#c3c3c3" textLength="29.4" lengthAdjust="spacing" stroke="#c3c3c3" stroke-width="0.3">16</text>
<text x="311.3" y="1431.5" font-size="23.7" fill="#c3c3c3" textLength="29.4" lengthAdjust="spacing" stroke="#c3c3c3" stroke-width="0.3">18</text>
<text x="420.3" y="1431.5" font-size="23.7" fill="#c3c3c3" textLength="29.4" lengthAdjust="spacing" stroke="#c3c3c3" stroke-width="0.3">20</text>
<text x="569.3" y="1431.5" font-size="23.7" fill="#c3c3c3" textLength="29.4" lengthAdjust="spacing" stroke="#c3c3c3" stroke-width="0.3">22</text>
<text x="689.3" y="1431.5" font-size="23.7" fill="#c3c3c3" textLength="29.4" lengthAdjust="spacing" stroke="#c3c3c3" stroke-width="0.3">24</text>
<text x="839.3" y="1431.5" font-size="23.7" fill="#c3c3c3" textLength="29.4" lengthAdjust="spacing" stroke="#c3c3c3" stroke-width="0.3">27</text>
<text x="1128" y="1431.5" font-size="23.7" fill="#c3c3c3" text-anchor="middle" stroke="#c3c3c3" stroke-width="0.3">3</text>
<text x="1260" y="1431.5" font-size="23.7" fill="#c3c3c3" text-anchor="middle" stroke="#c3c3c3" stroke-width="0.3">6</text>
<text x="1377" y="1431.5" font-size="23.7" fill="#c3c3c3" text-anchor="middle" stroke="#c3c3c3" stroke-width="0.3">9</text>
<text x="1473.3" y="1431.5" font-size="23.7" fill="#c3c3c3" textLength="29.4" lengthAdjust="spacing" stroke="#c3c3c3" stroke-width="0.3">11</text>
<text x="1595.3" y="1431.5" font-size="23.7" fill="#c3c3c3" textLength="29.4" lengthAdjust="spacing" stroke="#c3c3c3" stroke-width="0.3">14</text>
<text x="995.8" y="1431.5" font-size="23.7" fill="#d2d2d2" font-weight="bold" textLength="44.6" lengthAdjust="spacing">Déc</text>
<g shape-rendering="auto" fill="#dedede"><path d="M24 1493.7H48.2V1523.7H36V1505.9H24Z"/><circle cx="58" cy="1499.9" r="6.2"/><path d="M69 1493.7H84L73 1523.7H58.2Z"/></g>
<text x="97.8" y="1523.7" font-size="43.5" fill="#dedede" font-weight="bold" textLength="242.5" lengthAdjust="spacing" style="letter-spacing:0">TradingView</text>
</g></svg>
</body></html>
